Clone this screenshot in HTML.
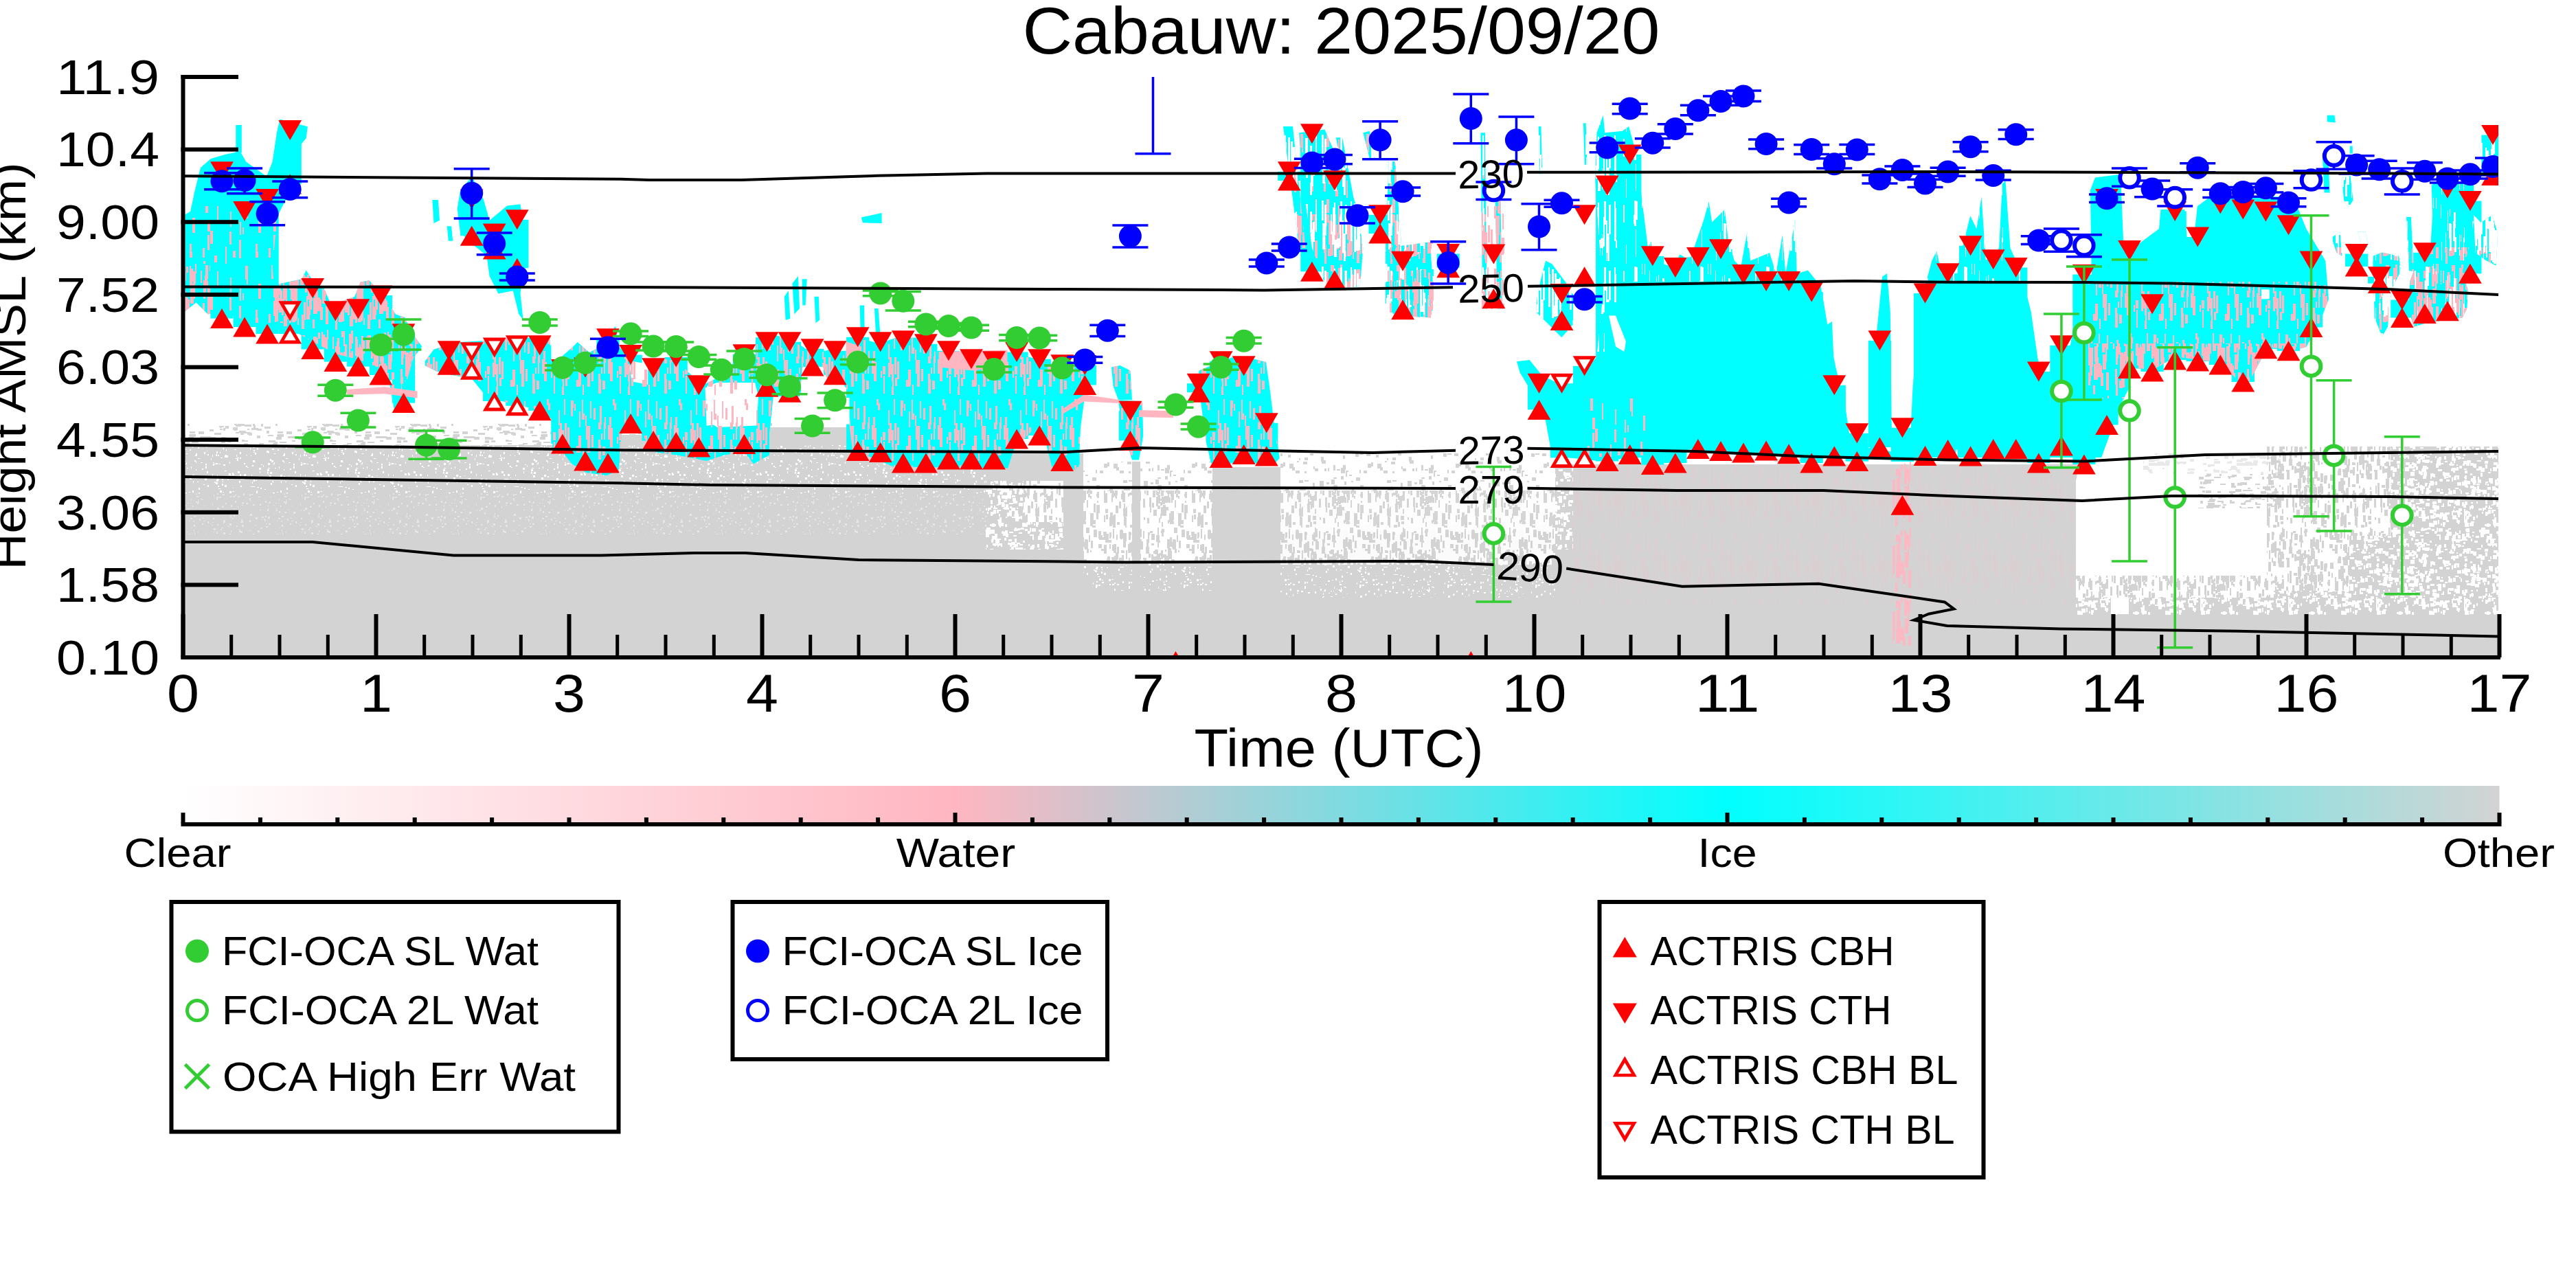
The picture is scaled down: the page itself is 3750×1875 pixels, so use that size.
<!DOCTYPE html>
<html><head><meta charset="utf-8"><title>Cabauw: 2025/09/20</title>
<style>html,body{margin:0;padding:0;background:#fff}svg{display:block}text{font-family:"Liberation Sans",sans-serif;fill:#000}</style>
</head><body>
<svg width="3750" height="1875" viewBox="0 0 3750 1875">
<rect width="3750" height="1875" fill="#fff"/>
<defs>
<clipPath id="ax"><rect x="266.5" y="112.0" width="3370.5" height="845.0"/></clipPath>
<linearGradient id="cb" x1="0" x2="1" y1="0" y2="0">
<stop offset="0" stop-color="#ffffff"/><stop offset="0.3333" stop-color="#ffb6c1"/><stop offset="0.6667" stop-color="#00ffff"/><stop offset="1" stop-color="#d3d3d3"/>
</linearGradient>
<pattern id="nW10" width="128" height="128" patternUnits="userSpaceOnUse"><path d="M21 92h1v1h-1zM78 32h1v3h-1zM77 9h3v1h-3zM20 55h3v3h-3zM102 92h3v2h-3zM69 119h3v2h-3zM34 115h2v3h-2zM93 119h1v1h-1zM54 114h2v2h-2zM71 45h3v1h-3zM6 45h1v1h-1zM17 92h2v1h-2zM71 23h3v3h-3zM94 67h2v2h-2zM45 46h2v3h-2zM122 102h2v1h-2zM59 83h3v3h-3zM62 71h3v1h-3zM65 106h2v3h-2zM113 58h2v3h-2zM72 92h2v2h-2zM58 62h3v3h-3zM120 83h3v1h-3zM112 68h3v1h-3zM38 122h2v2h-2zM71 66h3v3h-3zM78 75h3v3h-3zM93 26h2v2h-2zM46 119h2v3h-2zM112 9h3v3h-3zM1 116h2v3h-2zM27 7h1v3h-1zM6 34h3v3h-3zM87 27h3v1h-3zM109 68h3v1h-3zM15 108h1v1h-1zM7 92h3v1h-3zM31 6h2v1h-2zM17 6h1v1h-1zM5 47h1v3h-1zM104 40h2v1h-2zM66 0h3v1h-3zM5 101h2v3h-2zM9 1h1v1h-1zM80 95h2v3h-2zM36 86h3v1h-3zM39 114h2v1h-2zM94 5h3v3h-3zM110 79h2v2h-2zM60 57h3v1h-3zM80 107h1v3h-1zM114 32h1v1h-1zM99 50h3v3h-3zM41 18h2v3h-2zM33 77h2v2h-2zM2 89h2v3h-2zM85 14h3v1h-3zM16 41h2v1h-2zM116 59h1v1h-1zM119 4h3v3h-3zM113 18h1v1h-1zM75 58h2v1h-2zM90 46h3v3h-3zM54 35h2v3h-2zM19 9h3v1h-3zM20 14h2v2h-2zM11 30h3v3h-3zM5 46h1v1h-1zM55 6h1v1h-1zM59 58h3v3h-3zM82 48h2v3h-2zM53 93h1v3h-1zM65 2h2v2h-2zM6 112h3v3h-3zM74 23h2v3h-2zM122 46h1v3h-1zM30 78h1v3h-1zM88 125h2v2h-2zM2 111h2v2h-2zM12 13h3v2h-3zM107 4h2v1h-2zM52 124h2v1h-2zM113 18h2v1h-2zM6 47h1v2h-1zM9 28h2v3h-2zM14 95h2v1h-2zM59 17h2v3h-2zM113 15h2v2h-2zM15 20h2v1h-2zM82 50h3v2h-3zM26 3h1v3h-1zM60 99h3v3h-3zM127 37h1v3h-1zM18 102h2v2h-2zM61 67h2v2h-2zM122 93h2v3h-2zM107 87h2v2h-2zM29 20h2v2h-2zM33 70h2v3h-2zM86 89h2v3h-2zM24 9h1v3h-1zM69 37h2v1h-2zM102 22h2v1h-2zM4 16h3v3h-3zM29 90h2v2h-2zM42 56h3v3h-3zM73 14h1v3h-1zM108 12h1v3h-1zM31 91h2v3h-2zM21 114h3v2h-3zM60 51h1v2h-1zM93 18h2v3h-2zM92 3h2v2h-2zM112 94h3v2h-3zM13 61h1v2h-1zM32 90h2v2h-2zM90 82h3v2h-3zM123 70h2v2h-2zM95 116h2v3h-2zM97 57h3v1h-3zM24 51h3v3h-3zM125 112h3v2h-3zM40 118h3v1h-3zM116 113h3v3h-3zM22 104h2v3h-2zM103 55h1v1h-1zM77 49h3v3h-3zM99 51h1v1h-1zM117 75h2v3h-2zM62 35h3v1h-3zM111 61h1v3h-1zM72 22h2v3h-2zM26 124h2v3h-2zM0 115h1v2h-1zM107 85h2v3h-2zM96 124h3v1h-3zM58 34h3v2h-3zM3 126h3v2h-3zM88 22h1v3h-1zM86 80h2v2h-2zM6 41h3v1h-3zM59 86h2v2h-2zM1 72h2v1h-2zM123 0h3v2h-3zM68 97h2v1h-2zM26 111h3v2h-3zM63 83h3v2h-3zM77 9h1v2h-1zM38 42h2v2h-2zM83 82h3v2h-3zM107 117h2v3h-2zM53 50h1v3h-1zM108 108h3v3h-3zM22 39h1v3h-1zM117 59h1v1h-1zM7 122h3v2h-3zM97 93h1v1h-1zM91 9h1v2h-1zM46 21h2v2h-2zM111 37h2v2h-2zM117 113h2v1h-2zM118 69h3v1h-3zM12 60h2v1h-2zM96 95h2v1h-2zM35 101h1v2h-1zM68 96h1v1h-1zM43 35h2v3h-2zM64 74h3v3h-3zM121 41h3v3h-3zM96 91h3v2h-3zM96 124h3v3h-3zM68 79h3v2h-3zM9 47h3v3h-3zM61 22h2v2h-2zM56 61h2v2h-2zM80 97h1v1h-1zM26 89h1v1h-1zM19 117h1v2h-1zM55 1h3v3h-3zM30 105h3v2h-3zM69 36h3v2h-3zM115 19h2v3h-2zM25 118h2v2h-2zM124 36h2v1h-2zM64 18h1v2h-1zM32 11h2v2h-2zM31 61h2v1h-2zM5 43h3v3h-3zM98 78h2v3h-2zM45 16h1v1h-1zM99 34h2v2h-2zM29 43h1v2h-1zM78 122h3v3h-3zM6 100h2v1h-2zM79 111h2v2h-2zM107 79h2v3h-2zM75 126h3v1h-3zM58 21h2v3h-2zM67 57h2v2h-2zM115 32h1v1h-1zM44 9h1v3h-1zM58 102h2v2h-2zM32 27h3v1h-3zM28 22h3v2h-3zM109 23h1v1h-1zM59 6h2v3h-2zM8 123h2v1h-2zM7 17h1v3h-1zM69 7h3v3h-3zM1 86h1v1h-1zM112 30h3v3h-3zM125 0h1v2h-1zM29 31h1v3h-1zM54 102h1v2h-1zM55 80h1v3h-1zM79 82h2v2h-2zM67 64h2v3h-2zM65 26h3v1h-3zM53 22h1v3h-1zM38 87h2v1h-2zM54 33h2v1h-2zM102 38h2v2h-2zM25 60h1v3h-1zM67 97h2v2h-2zM29 53h2v2h-2zM89 26h3v1h-3zM51 27h1v3h-1zM10 82h1v2h-1zM6 95h1v3h-1zM92 60h2v3h-2zM94 57h3v1h-3zM80 4h1v3h-1zM13 35h3v1h-3zM69 117h3v3h-3zM118 74h1v1h-1zM83 70h1v1h-1zM8 52h3v3h-3zM92 4h2v3h-2zM84 110h2v2h-2zM69 120h1v3h-1zM107 85h1v1h-1zM93 50h2v3h-2zM95 118h3v3h-3zM32 88h1v2h-1zM116 124h1v2h-1zM60 78h2v2h-2zM24 74h2v3h-2zM24 96h2v2h-2zM43 39h2v3h-2zM94 120h1v1h-1zM32 87h1v3h-1zM68 76h2v1h-2zM7 50h1v1h-1zM40 65h2v1h-2zM43 105h3v3h-3zM53 120h2v1h-2zM36 33h3v1h-3zM41 96h1v1h-1zM81 114h3v1h-3zM10 63h2v3h-2zM19 76h2v1h-2zM85 100h1v1h-1zM30 82h3v2h-3zM15 33h1v3h-1zM17 100h3v1h-3zM124 116h2v1h-2zM60 123h2v2h-2zM27 30h2v2h-2zM23 0h1v1h-1zM110 51h1v2h-1zM69 12h1v3h-1zM46 66h2v3h-2zM8 90h2v3h-2zM89 28h2v3h-2zM3 122h2v1h-2zM36 52h1v1h-1zM68 12h2v1h-2zM82 75h3v1h-3zM22 86h1v3h-1zM55 35h3v1h-3zM68 60h1v2h-1zM90 97h1v3h-1zM118 12h2v3h-2zM13 77h3v2h-3z" fill="#fff"/></pattern>
<pattern id="nW35" width="128" height="128" patternUnits="userSpaceOnUse"><path d="M69 16h3v6h-3zM60 80h4v6h-4zM77 1h6v2h-6zM70 29h5v4h-5zM69 107h3v5h-3zM50 81h6v5h-6zM81 19h3v3h-3zM94 1h6v5h-6zM97 122h2v3h-2zM38 99h6v2h-6zM60 76h2v4h-2zM50 93h5v5h-5zM119 17h6v5h-6zM4 17h4v2h-4zM33 123h5v3h-5zM53 64h5v4h-5zM44 68h5v6h-5zM74 29h6v5h-6zM109 35h4v2h-4zM89 110h6v3h-6zM115 73h4v6h-4zM91 83h6v2h-6zM34 36h3v6h-3zM61 109h2v2h-2zM44 102h5v2h-5zM114 19h2v5h-2zM54 98h2v4h-2zM5 77h5v2h-5zM48 91h6v2h-6zM70 112h6v4h-6zM30 4h4v6h-4zM9 13h4v2h-4zM4 121h6v6h-6zM37 78h3v5h-3zM88 5h4v3h-4zM46 122h4v4h-4zM48 58h3v5h-3zM82 110h6v5h-6zM13 79h6v6h-6zM55 81h6v4h-6zM55 33h3v4h-3zM70 43h6v4h-6zM126 74h2v5h-2zM48 78h4v2h-4zM7 81h6v3h-6zM45 86h4v5h-4zM90 35h4v6h-4zM75 7h5v2h-5zM32 80h2v4h-2zM75 76h5v4h-5zM46 23h4v3h-4zM108 76h4v4h-4zM100 48h4v4h-4zM124 72h2v2h-2zM64 28h3v4h-3zM41 23h4v3h-4zM13 76h5v2h-5zM86 106h4v4h-4zM103 109h3v5h-3zM43 94h3v2h-3zM57 34h3v6h-3zM4 67h3v2h-3zM103 107h3v4h-3zM110 35h6v3h-6zM103 79h4v2h-4zM16 53h4v6h-4zM101 108h4v6h-4zM44 81h4v5h-4zM53 72h5v4h-5zM117 52h5v2h-5zM0 61h3v3h-3zM55 71h6v6h-6zM95 58h3v2h-3zM69 43h6v4h-6zM109 75h3v2h-3zM103 31h4v2h-4zM115 102h2v2h-2zM114 113h6v3h-6zM6 1h5v6h-5zM21 64h5v2h-5zM84 2h4v3h-4zM52 6h6v6h-6zM43 16h6v2h-6zM61 103h4v6h-4zM28 25h2v4h-2zM113 104h2v6h-2zM30 101h2v3h-2zM105 117h4v3h-4zM80 73h2v5h-2zM96 34h5v2h-5zM79 67h3v4h-3zM6 60h6v5h-6zM109 7h4v2h-4zM15 6h3v2h-3zM124 4h2v5h-2zM64 62h2v6h-2zM40 9h4v3h-4zM82 49h4v5h-4zM46 33h6v4h-6zM54 15h3v4h-3zM0 91h3v6h-3zM72 22h5v2h-5zM58 77h2v4h-2zM81 102h6v5h-6zM113 55h2v6h-2zM80 63h2v4h-2zM121 88h4v5h-4zM2 31h5v5h-5zM34 88h3v6h-3zM102 54h6v2h-6zM16 112h3v5h-3zM47 124h2v4h-2zM15 59h6v4h-6zM101 48h2v6h-2zM72 68h2v4h-2zM91 0h2v6h-2zM30 99h5v3h-5zM67 11h5v2h-5zM84 112h6v2h-6zM104 3h5v3h-5zM3 108h4v2h-4zM107 89h2v5h-2zM38 102h4v6h-4zM98 72h2v2h-2zM91 30h6v6h-6zM95 12h2v6h-2zM70 41h6v2h-6zM105 9h6v3h-6zM82 31h3v3h-3zM89 96h5v6h-5zM47 76h5v4h-5zM71 53h5v4h-5zM64 30h2v5h-2zM53 88h5v3h-5zM86 118h6v6h-6zM19 82h6v5h-6zM20 12h5v3h-5zM117 89h5v5h-5zM75 92h6v5h-6zM34 96h3v3h-3zM74 65h3v3h-3zM108 88h4v3h-4zM85 90h6v4h-6zM109 74h5v6h-5zM113 27h6v4h-6zM34 61h4v2h-4zM22 72h5v3h-5zM41 61h4v3h-4zM89 61h3v5h-3zM59 74h6v3h-6zM61 92h6v2h-6zM100 93h2v5h-2zM116 29h2v5h-2zM122 27h3v2h-3zM113 24h4v3h-4zM23 79h4v3h-4zM21 110h2v4h-2zM23 54h2v4h-2zM15 11h2v2h-2zM4 45h4v4h-4zM93 86h5v6h-5zM3 42h4v2h-4zM48 62h4v5h-4zM82 74h2v3h-2zM16 69h5v5h-5zM113 35h4v2h-4zM14 56h2v5h-2zM12 67h6v4h-6zM96 57h4v4h-4zM13 96h4v4h-4zM68 67h4v6h-4zM65 45h2v5h-2zM86 93h2v4h-2zM82 82h6v3h-6zM47 113h3v3h-3zM13 119h5v2h-5zM117 42h6v3h-6zM71 38h6v5h-6zM61 39h3v5h-3zM13 91h3v2h-3zM69 73h3v6h-3zM12 34h5v4h-5zM6 111h4v5h-4zM61 64h3v2h-3zM89 98h4v3h-4zM112 42h6v4h-6zM69 103h5v5h-5zM63 108h2v4h-2zM34 75h2v3h-2zM72 99h2v2h-2zM89 24h2v3h-2zM85 95h6v5h-6zM75 77h5v3h-5zM102 24h3v5h-3zM21 72h6v6h-6zM111 32h3v3h-3zM3 107h4v4h-4zM121 104h5v5h-5zM70 115h5v4h-5zM81 63h6v4h-6zM114 110h6v4h-6zM76 24h5v2h-5zM98 96h2v2h-2zM22 67h3v5h-3zM24 100h5v3h-5zM4 104h6v3h-6zM14 72h6v5h-6zM17 59h4v3h-4zM118 6h2v6h-2zM79 29h2v4h-2zM63 68h6v2h-6zM41 42h2v4h-2zM10 109h4v3h-4zM91 10h6v2h-6zM119 8h4v3h-4zM89 96h3v5h-3zM40 13h3v5h-3zM9 108h2v5h-2zM50 63h3v3h-3zM68 109h5v2h-5zM83 62h5v3h-5zM59 58h4v2h-4zM23 58h5v5h-5zM46 108h2v4h-2zM67 46h4v5h-4zM28 0h6v5h-6zM100 47h3v4h-3zM68 24h3v5h-3zM2 21h3v3h-3zM64 21h6v5h-6zM14 77h2v3h-2zM62 23h3v5h-3zM51 57h2v2h-2zM4 90h4v5h-4zM51 5h2v3h-2zM3 116h5v5h-5zM12 49h3v3h-3zM21 42h5v3h-5zM44 116h6v2h-6zM6 103h2v6h-2zM100 120h4v4h-4zM62 31h5v4h-5zM3 104h6v4h-6zM40 11h4v4h-4zM124 11h2v5h-2zM0 13h6v6h-6zM2 21h2v2h-2zM61 6h6v2h-6zM115 42h3v6h-3zM43 102h3v5h-3zM120 84h5v4h-5zM39 96h2v5h-2zM11 121h6v5h-6zM108 52h4v3h-4zM49 70h2v6h-2zM87 99h4v6h-4zM107 94h5v3h-5zM45 118h5v6h-5zM102 53h3v4h-3zM56 99h5v3h-5zM34 105h5v4h-5zM92 96h3v6h-3zM121 62h6v5h-6zM21 90h2v3h-2zM11 97h2v5h-2zM30 76h2v4h-2zM111 6h2v6h-2zM114 111h5v5h-5zM0 9h4v4h-4zM100 122h3v5h-3zM72 39h2v4h-2zM10 105h2v5h-2zM88 6h3v3h-3zM74 1h3v3h-3zM36 123h2v3h-2zM108 71h3v3h-3zM64 99h6v5h-6zM100 113h6v4h-6zM59 22h6v3h-6zM5 105h6v2h-6zM3 109h2v6h-2zM120 114h2v3h-2zM13 59h4v2h-4zM105 106h5v3h-5zM82 62h6v2h-6zM77 84h4v5h-4zM37 106h5v2h-5zM104 48h6v5h-6zM69 0h3v2h-3zM93 82h5v4h-5zM44 24h2v4h-2zM118 70h5v2h-5zM100 82h4v5h-4zM66 27h2v6h-2zM107 7h3v4h-3zM55 56h4v3h-4zM27 41h2v4h-2zM92 27h3v3h-3zM119 91h6v5h-6zM47 121h6v5h-6zM121 52h3v6h-3zM60 75h5v5h-5zM122 119h2v4h-2zM114 12h2v3h-2zM37 64h2v3h-2zM81 60h6v2h-6zM95 26h2v3h-2zM55 4h4v5h-4zM94 25h4v5h-4zM13 56h4v3h-4zM56 9h4v5h-4zM62 97h3v3h-3zM103 112h4v5h-4zM55 39h4v3h-4zM67 69h5v5h-5zM122 109h3v4h-3zM3 59h4v4h-4zM103 106h4v4h-4zM119 103h4v3h-4zM1 16h6v2h-6zM68 2h6v3h-6zM0 26h3v2h-3zM123 100h5v4h-5zM4 62h4v6h-4zM1 35h3v3h-3zM106 6h5v4h-5zM103 12h6v6h-6zM33 31h5v4h-5zM92 33h5v5h-5zM3 54h4v2h-4zM116 97h2v3h-2zM122 17h6v3h-6zM96 106h5v6h-5zM17 35h4v6h-4zM5 2h2v3h-2zM114 104h5v2h-5zM66 85h5v5h-5zM53 47h6v6h-6zM37 23h6v3h-6zM126 106h2v3h-2zM52 99h6v2h-6zM58 35h4v5h-4zM36 122h4v5h-4zM73 40h6v3h-6zM4 52h3v6h-3zM105 58h5v3h-5zM34 3h6v6h-6zM76 70h4v6h-4zM16 35h2v5h-2zM55 85h4v2h-4zM4 65h2v4h-2zM24 39h5v5h-5zM83 49h4v3h-4zM6 34h5v4h-5zM120 40h3v2h-3zM50 71h4v6h-4zM16 53h4v2h-4zM115 10h4v5h-4zM122 25h5v3h-5zM14 95h2v6h-2zM120 36h2v2h-2zM34 61h2v5h-2zM37 69h5v4h-5zM22 30h6v2h-6zM18 19h5v3h-5zM86 50h3v5h-3zM50 6h2v3h-2zM39 24h3v3h-3zM6 67h3v3h-3zM27 48h3v6h-3zM49 23h2v5h-2zM13 16h2v4h-2zM37 16h2v3h-2zM120 117h5v4h-5zM119 24h6v2h-6zM18 61h2v4h-2zM45 69h3v2h-3zM90 108h5v2h-5zM2 94h4v5h-4zM95 109h4v6h-4zM52 59h5v6h-5zM39 56h6v6h-6zM58 106h3v6h-3zM96 76h5v3h-5zM38 123h4v3h-4zM34 107h3v4h-3zM6 77h3v3h-3zM78 111h2v5h-2zM73 1h3v2h-3zM101 51h3v2h-3zM67 89h6v4h-6zM59 69h4v2h-4zM41 18h6v5h-6zM27 41h6v6h-6zM72 47h5v6h-5zM45 89h4v6h-4zM110 88h6v4h-6zM124 38h4v4h-4zM15 77h4v3h-4zM93 43h6v3h-6zM55 123h3v4h-3zM16 61h4v5h-4zM100 111h4v6h-4zM67 66h3v6h-3zM6 8h5v6h-5zM70 108h5v5h-5zM7 30h6v4h-6zM27 9h5v5h-5zM27 7h4v6h-4zM113 15h6v5h-6zM91 71h5v5h-5zM38 47h4v2h-4zM51 56h6v4h-6zM74 63h4v2h-4zM28 0h3v4h-3zM78 0h4v2h-4zM26 41h3v2h-3zM25 3h5v4h-5zM93 117h2v6h-2zM56 94h4v6h-4zM56 43h4v3h-4zM65 112h6v2h-6zM60 17h5v3h-5zM70 24h4v4h-4zM76 112h2v3h-2zM3 101h2v5h-2zM0 62h4v5h-4zM35 17h3v5h-3zM65 81h5v3h-5zM80 121h5v6h-5zM36 12h4v5h-4zM56 112h2v2h-2zM108 1h4v2h-4zM116 54h4v5h-4zM82 53h2v4h-2zM113 41h6v3h-6zM122 11h3v5h-3zM3 115h2v6h-2zM30 73h6v6h-6zM29 105h2v3h-2zM50 36h5v6h-5zM84 122h4v5h-4zM25 73h6v3h-6zM115 75h4v4h-4zM68 46h3v6h-3zM45 40h6v6h-6z" fill="#fff"/></pattern>
<pattern id="nW55" width="128" height="128" patternUnits="userSpaceOnUse"><rect width="128" height="128" fill="#fff"/><path d="M13 92h3v7h-3zM19 11h5v10h-5zM51 70h2v3h-2zM28 66h4v3h-4zM99 22h4v7h-4zM27 120h2v7h-2zM103 33h2v13h-2zM21 39h4v6h-4zM111 93h4v13h-4zM108 77h4v4h-4zM49 64h4v13h-4zM31 60h3v5h-3zM120 119h4v4h-4zM116 37h4v3h-4zM24 52h4v11h-4zM36 55h5v12h-5zM29 39h5v5h-5zM10 5h4v3h-4zM35 66h5v13h-5zM43 18h5v14h-5zM52 116h3v4h-3zM80 56h3v13h-3zM45 55h4v5h-4zM71 25h4v13h-4zM107 7h4v4h-4zM97 74h3v7h-3zM42 119h3v4h-3zM58 3h3v7h-3zM89 10h2v8h-2zM86 41h4v14h-4zM36 41h2v8h-2zM52 110h3v13h-3zM79 24h2v7h-2zM17 32h5v7h-5zM123 20h5v12h-5zM1 46h4v12h-4zM21 46h2v10h-2zM73 12h4v7h-4zM54 117h5v6h-5zM7 7h3v4h-3zM21 76h2v14h-2zM5 69h3v12h-3zM31 41h5v12h-5zM106 67h2v4h-2zM83 25h4v9h-4zM30 56h5v6h-5zM4 28h5v10h-5zM31 82h5v10h-5zM63 24h5v6h-5zM32 32h2v3h-2zM26 98h3v11h-3zM111 33h3v9h-3zM6 114h3v8h-3zM14 72h4v12h-4zM83 111h5v13h-5zM49 11h2v10h-2zM119 111h5v6h-5zM37 84h3v8h-3zM40 104h5v13h-5zM27 83h5v11h-5zM118 50h4v8h-4zM109 124h5v4h-5zM85 24h4v13h-4zM115 79h2v9h-2zM85 109h3v7h-3zM88 81h2v5h-2zM60 95h5v12h-5zM27 102h5v9h-5zM118 20h2v6h-2zM112 32h2v12h-2zM103 98h2v9h-2zM70 6h5v6h-5zM85 77h3v5h-3zM99 100h4v11h-4zM56 3h5v11h-5zM89 76h2v3h-2zM71 110h2v10h-2zM99 17h4v12h-4zM10 98h2v8h-2zM107 44h2v7h-2zM122 69h2v4h-2zM26 100h5v9h-5zM29 97h4v9h-4zM12 9h5v9h-5zM102 113h2v12h-2zM55 53h4v11h-4zM80 112h5v4h-5zM38 107h3v13h-3zM15 102h5v9h-5zM111 20h3v8h-3zM19 41h3v14h-3zM33 69h5v8h-5zM21 0h2v14h-2zM69 14h4v4h-4zM76 61h5v14h-5zM31 52h2v11h-2zM29 98h4v8h-4zM0 86h3v13h-3zM116 40h2v12h-2zM39 111h5v12h-5zM79 56h5v12h-5zM32 98h5v5h-5zM43 17h4v13h-4zM77 18h5v4h-5zM115 120h3v7h-3zM73 101h4v6h-4zM79 113h4v13h-4zM51 82h2v4h-2zM83 47h3v8h-3zM38 113h4v5h-4zM2 67h2v12h-2zM103 104h2v8h-2zM23 74h2v5h-2zM73 9h5v13h-5zM83 61h2v5h-2zM100 106h3v12h-3zM51 112h4v14h-4zM90 28h3v10h-3zM29 95h4v8h-4zM80 67h4v11h-4zM64 51h5v9h-5zM56 52h4v7h-4zM23 114h2v7h-2zM71 78h5v14h-5zM121 49h4v9h-4zM65 8h2v5h-2zM117 44h5v13h-5zM96 33h4v4h-4zM81 118h5v6h-5zM99 8h5v12h-5zM8 38h3v6h-3zM20 50h3v3h-3zM67 31h4v3h-4zM26 4h3v4h-3zM15 34h4v4h-4zM36 78h2v13h-2zM19 83h3v14h-3zM112 90h5v5h-5zM46 88h2v11h-2zM112 70h2v14h-2zM52 19h3v11h-3zM61 64h3v7h-3zM21 20h2v9h-2zM50 68h4v11h-4zM42 21h4v9h-4zM54 125h5v3h-5zM112 86h2v7h-2zM122 101h2v7h-2zM20 14h3v4h-3zM29 70h2v6h-2zM116 91h2v10h-2zM93 90h3v10h-3zM108 22h5v8h-5zM60 79h3v4h-3zM119 82h4v7h-4zM94 4h5v12h-5zM74 109h3v7h-3zM80 106h4v10h-4zM114 30h4v4h-4zM84 124h4v4h-4zM41 67h2v12h-2zM118 10h5v8h-5zM5 63h3v14h-3zM25 86h3v3h-3zM100 77h2v8h-2zM39 14h3v14h-3zM108 28h2v4h-2zM122 2h4v12h-4zM61 89h2v3h-2zM46 31h3v6h-3zM109 49h4v7h-4zM22 52h5v3h-5zM96 65h5v4h-5zM88 36h4v11h-4zM90 55h3v14h-3zM27 2h4v5h-4zM119 35h5v9h-5zM121 80h4v9h-4zM96 79h5v8h-5zM35 65h3v7h-3zM51 33h2v3h-2zM117 82h4v13h-4zM97 40h3v12h-3zM79 11h2v5h-2zM85 27h3v7h-3zM82 43h5v4h-5zM72 26h2v10h-2zM31 66h3v4h-3zM102 124h2v4h-2zM111 72h4v7h-4zM9 84h3v14h-3zM95 3h3v14h-3zM26 33h3v13h-3zM41 80h2v12h-2zM98 77h4v14h-4zM21 96h4v5h-4zM122 6h3v3h-3zM120 7h3v13h-3zM117 85h4v14h-4zM108 25h5v4h-5zM61 76h3v9h-3zM41 46h5v11h-5zM51 107h5v14h-5zM23 19h2v3h-2zM37 30h4v6h-4zM110 24h4v12h-4zM46 68h4v9h-4zM24 44h2v6h-2zM27 2h3v11h-3zM24 37h2v4h-2zM63 5h4v11h-4zM102 50h4v14h-4zM48 79h3v5h-3zM45 0h5v8h-5zM17 57h5v14h-5zM100 93h2v14h-2zM14 42h5v6h-5zM71 6h4v12h-4zM20 86h2v10h-2zM106 78h2v5h-2zM42 76h3v12h-3zM84 2h2v14h-2zM29 102h5v9h-5zM5 17h3v12h-3zM36 29h3v12h-3zM40 69h5v14h-5zM93 44h4v5h-4zM76 42h4v7h-4zM19 46h2v11h-2zM60 106h3v10h-3zM113 80h2v4h-2zM18 70h3v5h-3zM107 6h3v12h-3zM90 120h4v4h-4zM19 69h2v12h-2zM79 7h3v7h-3zM112 110h4v10h-4zM82 60h4v6h-4zM88 96h4v11h-4zM36 117h2v5h-2zM0 44h5v3h-5zM25 55h4v4h-4zM100 116h2v9h-2zM25 108h2v7h-2zM25 91h3v5h-3zM1 113h2v4h-2zM66 66h2v7h-2zM11 66h5v4h-5zM21 80h4v13h-4zM88 70h3v11h-3zM7 8h2v14h-2zM123 17h3v9h-3zM41 65h2v11h-2zM35 17h4v13h-4zM82 79h2v12h-2zM122 0h2v12h-2zM98 34h3v3h-3zM75 45h5v7h-5zM46 68h3v11h-3zM79 57h5v6h-5zM83 74h3v10h-3zM71 72h2v12h-2zM122 75h3v7h-3zM20 38h5v8h-5zM122 38h3v8h-3zM26 68h4v14h-4zM37 34h5v12h-5zM21 40h4v13h-4zM102 114h2v6h-2zM106 24h4v13h-4zM12 39h3v10h-3zM0 5h2v11h-2zM87 71h2v13h-2zM117 31h3v6h-3zM50 49h4v13h-4zM56 93h3v13h-3zM64 11h5v7h-5zM12 23h4v3h-4z" fill="#d3d3d3"/></pattern>
<pattern id="nW80" width="128" height="128" patternUnits="userSpaceOnUse"><rect width="128" height="128" fill="#fff"/><path d="M94 45h6v4h-6zM107 59h6v2h-6zM6 115h3v7h-3zM47 60h3v2h-3zM69 13h3v5h-3zM1 93h6v3h-6zM35 23h3v5h-3zM97 102h5v3h-5zM79 79h2v3h-2zM16 0h5v3h-5zM99 27h2v3h-2zM21 37h3v8h-3zM69 112h4v3h-4zM120 123h3v3h-3zM38 2h3v5h-3zM21 119h4v5h-4zM8 42h3v4h-3zM77 75h4v8h-4zM86 90h2v6h-2zM39 45h4v2h-4zM89 40h4v5h-4zM60 90h3v5h-3zM32 124h3v2h-3zM45 108h2v7h-2zM70 100h5v2h-5zM48 74h5v4h-5zM5 90h2v5h-2zM122 122h3v6h-3zM96 31h3v2h-3zM65 45h5v4h-5zM99 59h6v4h-6zM95 99h2v6h-2zM37 4h4v8h-4zM26 43h5v2h-5zM46 117h6v6h-6zM35 118h3v4h-3zM39 87h6v2h-6zM22 102h4v4h-4zM19 92h2v7h-2zM20 92h4v5h-4zM126 76h2v2h-2zM4 30h6v5h-6zM105 32h6v4h-6zM53 18h5v7h-5zM4 102h2v7h-2zM107 26h5v4h-5zM72 121h3v7h-3zM114 100h3v7h-3zM21 55h5v2h-5zM7 108h4v3h-4zM18 58h5v4h-5zM21 66h6v8h-6zM88 93h5v5h-5zM35 37h4v5h-4zM115 18h5v5h-5zM105 68h2v5h-2zM119 63h3v7h-3zM11 62h4v3h-4zM100 70h4v6h-4zM8 100h6v4h-6zM75 84h4v7h-4zM39 46h2v8h-2zM85 35h6v7h-6zM98 88h5v4h-5zM83 22h4v4h-4zM1 60h6v8h-6zM32 41h6v8h-6zM36 104h4v5h-4zM86 102h6v7h-6zM35 82h4v4h-4zM120 106h4v7h-4zM118 107h5v4h-5zM110 88h3v8h-3zM122 42h5v4h-5zM67 125h6v3h-6zM107 46h3v3h-3zM88 10h5v4h-5zM78 99h5v3h-5zM85 119h6v6h-6zM79 70h5v4h-5zM3 25h4v7h-4zM56 79h3v6h-3zM97 87h3v3h-3zM91 5h3v7h-3zM21 6h5v3h-5zM40 123h3v2h-3zM24 70h3v5h-3zM59 44h2v5h-2zM78 9h5v7h-5zM30 91h6v3h-6zM44 51h4v2h-4zM52 110h4v8h-4zM106 70h2v7h-2zM70 78h4v2h-4zM37 69h4v2h-4zM121 74h6v4h-6zM104 16h4v4h-4zM104 72h5v5h-5zM59 18h6v4h-6zM48 72h3v6h-3zM123 17h5v3h-5zM44 105h6v2h-6zM13 41h2v5h-2zM69 18h6v6h-6zM112 114h4v7h-4zM54 55h6v5h-6zM37 61h3v5h-3zM123 109h5v5h-5zM76 33h3v6h-3zM32 53h4v5h-4zM120 39h2v4h-2zM18 61h5v4h-5zM84 79h2v2h-2zM37 5h5v3h-5zM50 1h3v8h-3zM71 35h5v6h-5zM100 4h3v5h-3zM34 108h3v5h-3zM36 37h3v7h-3zM60 66h5v6h-5z" fill="#d3d3d3"/></pattern>
<pattern id="nG25" width="128" height="128" patternUnits="userSpaceOnUse"><path d="M97 33h4v3h-4zM18 84h3v2h-3zM47 40h10v4h-10zM62 102h3v3h-3zM111 52h6v4h-6zM72 70h4v2h-4zM102 78h7v4h-7zM42 11h4v3h-4zM103 32h8v3h-8zM12 96h10v4h-10zM81 101h6v4h-6zM121 5h7v2h-7zM116 46h6v4h-6zM65 73h10v2h-10zM46 31h3v4h-3zM45 75h9v3h-9zM64 112h4v2h-4zM77 84h6v2h-6zM92 25h7v3h-7zM28 17h9v3h-9zM66 1h6v4h-6zM2 82h6v2h-6zM115 85h8v4h-8zM48 67h7v3h-7zM16 86h9v3h-9zM23 54h10v2h-10zM56 31h9v2h-9zM85 111h4v4h-4zM100 106h10v3h-10zM66 54h9v2h-9zM90 104h10v3h-10zM24 95h9v2h-9zM62 92h7v3h-7zM2 68h5v2h-5zM75 102h4v3h-4zM32 64h8v2h-8zM118 66h10v3h-10zM118 112h7v3h-7zM62 34h9v4h-9zM61 62h10v4h-10zM48 63h5v4h-5zM103 59h7v4h-7zM84 20h8v3h-8zM77 34h9v4h-9zM50 124h8v4h-8zM101 20h10v4h-10zM0 79h7v4h-7zM23 3h10v2h-10zM91 47h4v4h-4zM109 75h8v3h-8zM19 121h3v2h-3zM1 54h7v4h-7zM60 29h10v2h-10zM46 123h4v3h-4zM80 31h5v4h-5zM4 80h8v2h-8zM13 5h4v4h-4zM92 115h10v3h-10zM3 89h4v4h-4zM106 118h5v4h-5zM79 80h4v2h-4zM57 63h7v4h-7zM17 104h3v4h-3zM61 99h6v3h-6zM71 35h10v3h-10zM74 8h10v4h-10zM36 46h7v3h-7zM64 109h3v2h-3zM35 123h7v3h-7zM56 118h10v3h-10zM91 10h8v2h-8zM81 30h6v4h-6zM22 43h3v4h-3zM6 121h8v2h-8zM55 43h6v4h-6zM93 86h4v2h-4zM70 17h4v3h-4zM63 81h10v4h-10zM9 44h4v2h-4zM67 90h3v2h-3zM36 94h5v2h-5zM72 108h5v4h-5zM28 89h9v2h-9zM88 20h5v3h-5zM71 73h8v2h-8zM49 24h3v4h-3zM67 56h8v3h-8zM108 67h3v3h-3zM29 82h5v4h-5zM85 23h8v3h-8zM88 80h5v2h-5zM9 7h5v3h-5zM60 97h3v2h-3zM83 91h3v2h-3zM47 76h4v4h-4zM69 28h3v2h-3zM97 72h9v2h-9zM60 9h7v2h-7zM114 84h3v2h-3zM14 89h10v2h-10zM87 117h5v2h-5zM93 54h3v4h-3zM56 29h7v3h-7zM99 68h6v4h-6zM75 1h6v3h-6zM101 93h7v4h-7zM11 74h8v4h-8zM46 88h3v3h-3zM121 97h4v2h-4zM117 88h3v3h-3zM87 106h8v3h-8zM17 3h3v3h-3zM8 62h3v3h-3zM106 33h3v3h-3zM75 78h4v4h-4zM16 16h7v2h-7zM23 31h9v4h-9zM54 72h9v4h-9zM32 17h10v3h-10zM24 97h7v2h-7zM103 22h10v2h-10zM65 20h4v2h-4zM75 50h4v2h-4zM110 111h10v3h-10zM107 82h10v2h-10zM98 117h9v2h-9zM43 53h10v2h-10zM17 36h7v3h-7zM109 86h8v4h-8zM0 99h8v2h-8zM10 52h7v2h-7zM11 24h6v4h-6zM16 96h9v3h-9zM118 122h5v4h-5zM67 99h3v4h-3zM113 42h10v3h-10zM83 84h9v3h-9zM16 5h4v3h-4zM77 78h4v4h-4zM64 14h5v4h-5zM106 85h4v2h-4zM44 43h4v2h-4zM104 117h5v4h-5zM23 28h6v2h-6zM94 118h5v3h-5zM14 92h10v4h-10zM102 25h5v3h-5zM18 124h8v4h-8zM33 116h8v4h-8zM96 0h4v3h-4zM3 61h3v4h-3zM7 1h10v3h-10zM12 49h7v4h-7zM94 106h8v2h-8zM106 96h8v2h-8zM85 97h5v3h-5zM51 100h10v4h-10zM113 107h3v4h-3zM57 47h5v2h-5zM86 70h3v2h-3zM9 61h10v3h-10zM90 25h4v3h-4zM42 32h5v3h-5zM69 88h8v3h-8zM71 125h7v3h-7zM95 31h3v4h-3zM112 104h3v4h-3zM68 32h10v4h-10zM41 1h5v2h-5zM38 24h6v4h-6zM7 34h5v3h-5zM112 47h7v4h-7zM93 21h6v4h-6zM104 112h3v2h-3zM23 44h8v4h-8zM118 81h5v3h-5zM49 113h6v3h-6zM83 93h8v2h-8zM6 74h4v3h-4zM56 34h6v4h-6zM7 61h6v4h-6zM34 81h7v4h-7zM100 54h8v3h-8zM97 69h8v2h-8zM20 120h9v4h-9zM83 64h7v2h-7zM64 7h8v4h-8zM14 7h4v4h-4zM68 11h10v3h-10zM33 45h5v4h-5zM34 91h3v2h-3zM49 51h7v3h-7zM14 36h4v4h-4zM93 32h10v3h-10zM98 1h7v2h-7zM69 111h3v4h-3zM28 100h9v2h-9zM83 110h7v4h-7zM33 101h3v2h-3zM15 3h5v4h-5zM62 27h9v3h-9zM35 97h4v4h-4zM19 12h5v2h-5zM76 41h3v2h-3zM60 78h9v4h-9zM41 123h10v3h-10zM102 22h10v2h-10zM85 105h4v2h-4zM28 75h5v3h-5zM72 98h8v3h-8zM107 76h7v4h-7zM116 28h6v4h-6zM31 50h3v3h-3zM4 115h4v4h-4zM102 63h8v3h-8zM48 38h7v3h-7zM91 75h8v4h-8zM115 7h8v4h-8zM75 23h9v4h-9zM75 85h7v3h-7zM13 58h10v2h-10zM73 54h5v3h-5zM9 58h10v3h-10zM1 109h9v3h-9zM8 61h4v4h-4zM7 81h9v4h-9zM124 105h3v4h-3zM20 116h8v3h-8zM68 9h5v3h-5zM76 14h9v4h-9zM104 83h3v3h-3zM94 68h6v4h-6zM66 124h7v4h-7zM46 90h7v3h-7zM44 53h3v4h-3zM63 108h7v2h-7zM2 69h8v2h-8zM99 5h6v2h-6zM82 13h3v3h-3z" fill="#d3d3d3"/></pattern>
<pattern id="nP" width="96" height="96" patternUnits="userSpaceOnUse"><path d="M50 83h3v12h-3zM68 12h2v10h-2zM7 64h3v26h-3zM11 55h2v9h-2zM30 11h3v10h-3zM7 72h4v21h-4zM80 80h2v15h-2zM73 74h4v9h-4zM28 5h3v9h-3zM37 53h4v12h-4zM15 39h2v25h-2zM13 74h4v13h-4zM24 47h4v28h-4zM91 8h2v25h-2zM79 26h4v9h-4zM54 40h3v25h-3zM58 46h3v26h-3zM23 31h3v15h-3zM38 67h2v26h-2zM93 57h3v18h-3zM9 15h3v27h-3zM21 43h4v21h-4zM53 5h2v23h-2zM71 73h4v10h-4zM88 44h3v18h-3zM74 58h4v23h-4zM34 60h2v10h-2zM7 39h4v10h-4zM87 57h4v26h-4zM85 44h3v20h-3zM45 21h2v22h-2zM63 7h4v11h-4zM16 31h2v17h-2zM63 10h3v20h-3zM51 70h2v22h-2zM55 70h3v12h-3zM45 48h3v21h-3zM10 22h2v12h-2zM84 29h2v15h-2zM75 23h2v23h-2zM0 18h3v17h-3zM47 40h3v25h-3zM79 6h2v24h-2zM50 50h3v25h-3z" fill="#ffb6c1"/></pattern>
<pattern id="nPd" width="96" height="96" patternUnits="userSpaceOnUse"><path d="M48 16h3v19h-3zM10 17h3v9h-3zM26 51h3v24h-3zM62 58h2v22h-2zM73 24h5v23h-5zM62 29h5v10h-5zM66 52h2v16h-2zM14 33h5v20h-5zM49 79h2v10h-2zM84 7h5v11h-5zM88 11h4v15h-4zM66 26h5v28h-5zM8 69h3v27h-3zM89 24h2v23h-2zM58 56h3v26h-3zM45 54h4v25h-4zM76 12h3v13h-3zM82 63h4v19h-4zM19 45h3v17h-3zM84 9h4v24h-4zM31 1h3v19h-3zM28 34h4v18h-4zM32 48h2v21h-2zM22 50h4v21h-4zM84 3h2v13h-2zM38 14h3v13h-3zM43 21h2v20h-2zM17 52h5v15h-5zM53 10h5v21h-5zM91 12h2v17h-2zM84 13h2v10h-2zM64 62h4v12h-4zM8 24h3v27h-3zM43 49h2v12h-2zM44 41h2v17h-2zM82 63h4v8h-4zM79 4h3v9h-3zM43 55h3v13h-3zM10 25h5v11h-5zM60 19h3v23h-3zM13 74h5v11h-5zM16 56h5v28h-5zM72 50h2v23h-2zM28 6h4v22h-4zM57 14h3v9h-3zM92 0h2v14h-2zM46 55h2v28h-2zM64 25h2v27h-2zM67 49h3v18h-3zM37 78h3v8h-3zM41 51h4v10h-4zM37 10h3v28h-3zM41 66h5v19h-5zM45 37h4v28h-4zM62 47h2v14h-2zM39 26h5v26h-5zM78 49h4v20h-4zM74 46h4v27h-4zM62 67h5v14h-5zM20 8h2v16h-2zM53 14h5v16h-5zM35 64h4v17h-4zM80 52h4v16h-4zM31 31h3v19h-3zM29 76h5v15h-5zM63 13h3v19h-3zM10 21h2v20h-2zM17 2h5v9h-5zM11 12h3v16h-3zM85 36h5v22h-5zM77 45h2v12h-2zM4 10h2v18h-2zM46 9h3v28h-3zM76 40h3v9h-3zM45 41h3v17h-3zM14 44h2v24h-2zM20 32h5v13h-5zM55 8h5v12h-5zM28 10h2v25h-2zM43 25h4v13h-4zM7 71h2v9h-2zM71 81h3v13h-3zM31 64h4v17h-4zM72 10h5v11h-5zM28 41h3v12h-3zM22 21h3v21h-3zM7 57h3v22h-3zM55 74h4v21h-4zM90 62h4v26h-4zM23 39h4v24h-4zM16 35h4v23h-4z" fill="#ffb6c1"/></pattern>
<pattern id="nWs" width="96" height="96" patternUnits="userSpaceOnUse"><path d="M47 34h2v29h-2zM86 0h1v15h-1zM59 10h2v26h-2zM78 5h2v27h-2zM21 57h3v22h-3zM20 21h3v23h-3zM14 16h1v11h-1zM75 4h3v37h-3zM13 37h3v22h-3zM28 53h1v31h-1zM34 58h1v34h-1zM35 43h1v22h-1zM90 0h1v16h-1zM48 62h2v11h-2zM30 54h1v10h-1zM14 38h3v39h-3zM74 25h1v13h-1zM1 10h1v20h-1zM2 64h1v27h-1zM63 68h1v28h-1zM8 50h1v23h-1zM11 18h1v30h-1zM77 46h1v40h-1zM34 71h1v11h-1zM19 34h3v29h-3z" fill="#fff"/></pattern>
<pattern id="nWs2" width="96" height="96" patternUnits="userSpaceOnUse"><path d="M54 61h4v16h-4zM26 59h4v14h-4zM83 20h3v31h-3zM62 20h2v47h-2zM46 5h2v29h-2zM77 45h3v22h-3zM36 52h3v40h-3zM58 22h4v30h-4zM84 46h4v33h-4zM30 28h2v43h-2zM5 37h4v38h-4zM17 24h2v29h-2zM46 15h3v48h-3zM57 27h3v49h-3zM83 74h3v18h-3zM20 14h3v46h-3zM4 4h3v29h-3zM77 9h3v33h-3zM19 49h4v19h-4zM76 9h4v37h-4zM56 21h2v20h-2zM55 26h2v36h-2zM87 35h3v29h-3zM22 7h2v47h-2zM38 10h3v43h-3zM22 61h4v25h-4zM55 14h3v34h-3zM91 2h2v48h-2zM31 5h3v34h-3zM51 37h3v42h-3zM63 43h2v38h-2zM34 33h2v47h-2zM8 10h3v45h-3zM51 8h3v43h-3z" fill="#fff"/></pattern>
<pattern id="nPl" width="96" height="96" patternUnits="userSpaceOnUse"><path d="M84 67h3v16h-3zM18 48h4v19h-4zM61 35h2v19h-2zM88 29h4v22h-4zM84 79h4v8h-4zM47 20h2v22h-2zM7 73h3v14h-3zM65 43h2v10h-2zM11 2h4v20h-4zM28 11h2v24h-2zM14 54h3v22h-3zM40 71h2v25h-2zM71 21h2v9h-2zM51 77h4v10h-4zM60 61h3v27h-3zM69 3h4v20h-4zM24 84h4v10h-4zM46 49h3v19h-3zM14 32h4v17h-4z" fill="#ffb6c1"/></pattern>
<pattern id="nWs3" width="96" height="96" patternUnits="userSpaceOnUse"><path d="M87 23h4v32h-4zM28 23h3v23h-3zM68 27h3v18h-3zM55 16h4v15h-4zM18 10h2v31h-2zM55 8h4v42h-4zM29 31h4v36h-4zM55 40h5v37h-5zM44 33h4v21h-4zM78 47h5v49h-5zM86 46h3v42h-3zM22 18h5v48h-5zM66 45h3v25h-3zM58 16h4v37h-4zM16 36h4v39h-4zM30 36h5v49h-5zM89 46h3v26h-3zM55 59h3v18h-3zM54 5h5v14h-5zM63 56h3v23h-3zM52 32h4v24h-4zM90 47h4v26h-4zM92 63h3v29h-3zM74 75h3v16h-3zM74 46h2v36h-2zM37 24h4v25h-4zM14 14h3v49h-3zM54 76h3v18h-3zM43 41h2v42h-2zM0 8h2v47h-2zM52 38h4v21h-4zM76 44h4v50h-4zM66 23h2v44h-2zM40 42h2v14h-2zM71 34h3v45h-3zM85 26h5v28h-5zM48 64h4v16h-4zM33 54h3v23h-3zM54 30h3v30h-3zM75 36h4v29h-4zM82 44h5v27h-5zM40 50h5v16h-5zM8 5h5v19h-5zM24 57h2v33h-2zM49 21h5v49h-5zM67 55h2v32h-2zM6 14h3v23h-3zM27 39h4v24h-4zM37 2h4v38h-4zM12 46h4v22h-4zM74 37h5v42h-5z" fill="#fff"/></pattern>
<pattern id="nCs" width="96" height="96" patternUnits="userSpaceOnUse"><path d="M59 57h3v27h-3zM24 23h4v28h-4zM80 23h4v25h-4zM38 18h2v24h-2zM88 5h2v27h-2zM57 20h4v22h-4zM67 8h4v10h-4zM24 30h2v11h-2zM59 41h4v10h-4zM25 66h3v28h-3zM37 63h2v30h-2zM10 58h2v31h-2zM52 70h4v18h-4zM32 40h2v32h-2zM36 3h2v26h-2zM13 51h2v28h-2zM49 8h2v19h-2zM0 27h2v31h-2zM60 48h2v11h-2zM53 9h4v22h-4zM25 34h4v30h-4zM39 42h3v12h-3zM15 17h2v23h-2zM12 1h2v32h-2zM62 22h2v24h-2zM24 57h4v27h-4zM16 53h4v16h-4zM14 50h4v22h-4zM0 34h3v16h-3zM2 26h4v19h-4zM77 73h2v22h-2zM18 27h2v11h-2zM1 78h3v18h-3zM37 24h3v36h-3zM11 26h2v12h-2zM31 1h4v30h-4zM47 58h4v21h-4zM61 17h2v28h-2zM80 19h3v15h-3zM78 31h3v17h-3zM20 80h4v16h-4zM87 49h4v16h-4z" fill="#00ffff"/></pattern>
</defs>
<g clip-path="url(#ax)">
<polygon points="266.5,648.0 880.0,648.0 904.0,633.0 1100.0,632.0 1120.0,622.0 1240.0,622.0 1250.0,660.0 1577.0,660.0 1577.0,672.0 1660.0,672.0 1660.0,680.0 1864.0,680.0 1864.0,660.0 2262.0,660.0 2262.0,676.0 3028.0,676.0 3028.0,672.0 3300.0,672.0 3300.0,650.0 3637.0,650.0 3637.0,957.0 266.5,957.0" fill="#d3d3d3"/>
<rect x="266.5" y="617" width="640" height="31" fill="url(#nG25)"/>
<rect x="904" y="612" width="220" height="21" fill="url(#nG25)"/>
<rect x="2540" y="652" width="100" height="20" fill="url(#nG25)"/>
<rect x="266.5" y="648" width="1170" height="70" fill="url(#nW10)"/>
<rect x="266.5" y="718" width="1170" height="60" fill="url(#nW10)" opacity="0.4"/>
<rect x="1435" y="700" width="113" height="100" fill="url(#nW35)" opacity="1"/>
<rect x="1490" y="700" width="58" height="60" fill="url(#nW55)" opacity="1"/>
<rect x="1577" y="672" width="71" height="42" fill="url(#nW80)" opacity="1"/>
<rect x="1577" y="714" width="71" height="106" fill="url(#nW55)" opacity="1"/>
<rect x="1577" y="820" width="71" height="40" fill="url(#nW10)" opacity="1"/>
<rect x="1660" y="672" width="105" height="42" fill="url(#nW80)" opacity="1"/>
<rect x="1660" y="714" width="105" height="106" fill="url(#nW55)" opacity="1"/>
<rect x="1660" y="820" width="105" height="40" fill="url(#nW10)" opacity="1"/>
<rect x="1864" y="660" width="400" height="54" fill="url(#nW80)" opacity="1"/>
<rect x="1864" y="714" width="400" height="61" fill="url(#nW80)" opacity="0.55"/>
<rect x="1864" y="714" width="400" height="108" fill="url(#nW55)" opacity="0.9"/>
<rect x="1864" y="822" width="400" height="48" fill="url(#nW10)" opacity="1"/>
<rect x="2264" y="680" width="26" height="120" fill="url(#nW35)" opacity="1"/>
<polygon points="3028.0,670.0 3300.0,670.0 3300.0,700.0 3320.0,760.0 3300.0,850.0 3022.0,850.0 3022.0,700.0" fill="#fff"/>
<rect x="3073" y="840" width="26" height="54" fill="#fff"/>
<rect x="3022" y="850" width="288" height="45" fill="url(#nW35)" opacity="1"/>
<rect x="3022" y="838" width="288" height="32" fill="url(#nW55)" opacity="1"/>
<rect x="3300" y="650" width="337" height="245" fill="url(#nW35)" opacity="1"/>
<rect x="3300" y="650" width="180" height="130" fill="url(#nW55)" opacity="1"/>
<rect x="3300" y="690" width="120" height="170" fill="url(#nW55)" opacity="1"/>
<rect x="3200" y="690" width="120" height="50" fill="url(#nG25)"/>
<rect x="3120" y="660" width="200" height="30" fill="url(#nG25)" opacity="0.5"/>
<rect x="2755" y="640" width="28" height="300" fill="url(#nPd)" opacity="0.9"/>
<rect x="2287" y="680" width="735" height="200" fill="url(#nP)" opacity="0.18"/>
<rect x="306.4" y="249.8" width="33.2" height="213.8" fill="#00ffff"/>
<rect x="339.5" y="307.5" width="33.2" height="168.5" fill="#00ffff"/>
<rect x="372.5" y="289.5" width="33.2" height="196.5" fill="#00ffff"/>
<rect x="405.6" y="189.5" width="33.2" height="78.5" fill="#00ffff"/>
<rect x="405.6" y="452.8" width="33.2" height="33.2" fill="#00ffff"/>
<rect x="438.6" y="419.5" width="33.2" height="89.0" fill="#00ffff"/>
<rect x="471.7" y="452.8" width="33.2" height="73.8" fill="#00ffff"/>
<rect x="504.8" y="449.8" width="33.2" height="83.8" fill="#00ffff"/>
<rect x="537.8" y="430.0" width="33.2" height="116.0" fill="#00ffff"/>
<rect x="570.9" y="485.8" width="33.2" height="100.8" fill="#00ffff"/>
<rect x="637.0" y="510.8" width="33.2" height="20.5" fill="#00ffff"/>
<rect x="670.1" y="290.0" width="33.2" height="53.2" fill="#00ffff"/>
<rect x="670.1" y="512.8" width="33.2" height="25.5" fill="#00ffff"/>
<rect x="703.1" y="340.0" width="33.2" height="23.0" fill="#00ffff"/>
<rect x="703.1" y="506.0" width="33.2" height="78.0" fill="#00ffff"/>
<rect x="736.2" y="319.8" width="33.2" height="70.5" fill="#00ffff"/>
<rect x="736.2" y="502.8" width="33.2" height="88.0" fill="#00ffff"/>
<rect x="769.2" y="502.8" width="33.2" height="95.0" fill="#00ffff"/>
<rect x="802.3" y="537.5" width="33.2" height="108.5" fill="#00ffff"/>
<rect x="835.4" y="535.0" width="33.2" height="136.0" fill="#00ffff"/>
<rect x="868.4" y="492.8" width="33.2" height="181.2" fill="#00ffff"/>
<rect x="901.5" y="516.5" width="33.2" height="100.0" fill="#00ffff"/>
<rect x="934.5" y="535.8" width="33.2" height="105.8" fill="#00ffff"/>
<rect x="967.6" y="520.0" width="33.2" height="123.5" fill="#00ffff"/>
<rect x="1000.7" y="560.8" width="33.2" height="90.2" fill="#00ffff"/>
<rect x="1066.8" y="515.8" width="33.2" height="130.8" fill="#00ffff"/>
<rect x="1099.8" y="497.8" width="33.2" height="65.5" fill="#00ffff"/>
<rect x="1132.9" y="497.8" width="33.2" height="73.5" fill="#00ffff"/>
<rect x="1166.0" y="507.8" width="33.2" height="25.2" fill="#00ffff"/>
<rect x="1199.0" y="510.8" width="33.2" height="35.0" fill="#00ffff"/>
<rect x="1232.1" y="490.8" width="33.2" height="165.8" fill="#00ffff"/>
<rect x="1265.1" y="497.8" width="33.2" height="160.8" fill="#00ffff"/>
<rect x="1298.2" y="495.8" width="33.2" height="178.2" fill="#00ffff"/>
<rect x="1331.3" y="500.8" width="33.2" height="173.2" fill="#00ffff"/>
<rect x="1364.3" y="510.8" width="33.2" height="158.2" fill="#00ffff"/>
<rect x="1397.4" y="522.8" width="33.2" height="146.2" fill="#00ffff"/>
<rect x="1430.4" y="525.8" width="33.2" height="143.2" fill="#00ffff"/>
<rect x="1463.5" y="512.5" width="33.2" height="126.5" fill="#00ffff"/>
<rect x="1496.6" y="522.8" width="33.2" height="111.2" fill="#00ffff"/>
<rect x="1529.6" y="530.8" width="33.2" height="140.8" fill="#00ffff"/>
<rect x="1562.7" y="531.5" width="33.2" height="29.0" fill="#00ffff"/>
<rect x="1628.8" y="598.2" width="33.2" height="43.2" fill="#00ffff"/>
<rect x="1728.0" y="558.2" width="33.2" height="13.0" fill="#00ffff"/>
<rect x="1761.0" y="525.8" width="33.2" height="140.8" fill="#00ffff"/>
<rect x="1794.1" y="532.8" width="33.2" height="128.8" fill="#00ffff"/>
<rect x="1827.2" y="615.8" width="33.2" height="48.2" fill="#00ffff"/>
<rect x="1860.2" y="249.8" width="33.2" height="13.2" fill="#00ffff"/>
<rect x="1893.3" y="194.8" width="33.2" height="200.5" fill="#00ffff"/>
<rect x="1926.3" y="262.8" width="33.2" height="145.0" fill="#00ffff"/>
<rect x="1992.5" y="312.8" width="33.2" height="27.2" fill="#00ffff"/>
<rect x="2091.6" y="369.5" width="33.2" height="20.2" fill="#00ffff"/>
<rect x="2223.9" y="558.2" width="33.2" height="38.2" fill="#00ffff"/>
<rect x="2256.9" y="427.5" width="33.2" height="39.0" fill="#00ffff"/>
<rect x="2256.9" y="558.2" width="33.2" height="108.2" fill="#00ffff"/>
<rect x="2290.0" y="532.8" width="33.2" height="133.8" fill="#00ffff"/>
<rect x="2323.1" y="270.0" width="33.2" height="401.5" fill="#00ffff"/>
<rect x="2356.1" y="225.0" width="33.2" height="436.5" fill="#00ffff"/>
<rect x="2389.2" y="372.8" width="33.2" height="303.8" fill="#00ffff"/>
<rect x="2422.2" y="389.5" width="33.2" height="284.5" fill="#00ffff"/>
<rect x="2455.3" y="374.5" width="33.2" height="279.0" fill="#00ffff"/>
<rect x="2488.4" y="362.8" width="33.2" height="293.8" fill="#00ffff"/>
<rect x="2521.4" y="399.5" width="33.2" height="259.5" fill="#00ffff"/>
<rect x="2554.5" y="409.5" width="33.2" height="246.5" fill="#00ffff"/>
<rect x="2587.5" y="409.5" width="33.2" height="251.2" fill="#00ffff"/>
<rect x="2620.6" y="425.0" width="33.2" height="249.0" fill="#00ffff"/>
<rect x="2653.7" y="560.8" width="33.2" height="103.2" fill="#00ffff"/>
<rect x="2686.7" y="630.8" width="33.2" height="40.8" fill="#00ffff"/>
<rect x="2719.8" y="495.8" width="33.2" height="155.2" fill="#00ffff"/>
<rect x="2752.8" y="622.8" width="33.2" height="49.2" fill="#00ffff"/>
<rect x="2785.9" y="427.0" width="33.2" height="236.5" fill="#00ffff"/>
<rect x="2819.0" y="397.8" width="33.2" height="256.8" fill="#00ffff"/>
<rect x="2852.0" y="357.8" width="33.2" height="306.2" fill="#00ffff"/>
<rect x="2885.1" y="377.8" width="33.2" height="275.8" fill="#00ffff"/>
<rect x="2918.1" y="389.5" width="33.2" height="264.0" fill="#00ffff"/>
<rect x="2951.2" y="541.0" width="33.2" height="133.0" fill="#00ffff"/>
<rect x="2984.3" y="502.8" width="33.2" height="146.2" fill="#00ffff"/>
<rect x="3017.3" y="399.5" width="33.2" height="276.5" fill="#00ffff"/>
<rect x="3050.4" y="289.5" width="33.2" height="329.0" fill="#00ffff"/>
<rect x="3083.4" y="364.5" width="33.2" height="172.0" fill="#00ffff"/>
<rect x="3116.5" y="442.8" width="33.2" height="98.2" fill="#00ffff"/>
<rect x="3149.6" y="307.5" width="33.2" height="216.5" fill="#00ffff"/>
<rect x="3182.6" y="345.0" width="33.2" height="181.0" fill="#00ffff"/>
<rect x="3215.7" y="296.8" width="33.2" height="234.2" fill="#00ffff"/>
<rect x="3248.7" y="305.0" width="33.2" height="251.0" fill="#00ffff"/>
<rect x="3281.8" y="308.0" width="33.2" height="199.8" fill="#00ffff"/>
<rect x="3314.9" y="327.8" width="33.2" height="183.0" fill="#00ffff"/>
<rect x="3347.9" y="380.0" width="33.2" height="96.5" fill="#00ffff"/>
<rect x="3414.0" y="369.5" width="33.2" height="18.5" fill="#00ffff"/>
<rect x="3447.1" y="402.8" width="33.2" height="9.8" fill="#00ffff"/>
<rect x="3480.2" y="436.5" width="33.2" height="26.0" fill="#00ffff"/>
<rect x="3513.2" y="367.8" width="33.2" height="88.8" fill="#00ffff"/>
<rect x="3546.3" y="274.2" width="33.2" height="178.5" fill="#00ffff"/>
<rect x="3579.3" y="292.5" width="33.2" height="105.8" fill="#00ffff"/>
<rect x="3612.4" y="196.5" width="33.2" height="59.0" fill="#00ffff"/>
<polygon points="269.4,312.3 277.1,308.0 283.5,278.1 292.0,243.9 307.0,231.1 328.3,224.7 349.7,220.5 358.2,235.4 388.1,256.8 396.6,235.4 403.0,192.7 407.3,173.5 447.9,184.2 445.7,201.2 435.1,214.1 430.8,243.9 422.3,278.1 405.2,312.3 400.9,342.2 396.6,389.1 398.8,414.7 439.3,406.2 445.7,393.4 456.4,410.5 473.5,423.3 482.0,444.6 516.2,431.8 524.7,410.5 537.6,408.3 558.9,431.8 576.0,457.4 588.8,461.7 601.6,487.3 614.4,504.4 601.6,521.5 593.1,551.4 584.5,559.9 576.0,551.4 558.9,555.7 554.6,536.4 522.6,523.6 488.4,515.1 456.4,498.0 422.3,478.8 388.1,478.8 356.1,466.0 324.1,453.2 302.7,457.4 285.6,440.4 269.4,453.2" fill="#00ffff"/>
<polygon points="343.3,182.0 351.8,182.0 351.8,222.6 343.3,222.6" fill="#00ffff"/>
<polygon points="629.4,290.9 637.9,290.9 640.0,320.8 631.5,325.1" fill="#00ffff"/>
<polygon points="650.7,329.3 657.1,329.3 659.2,350.7 652.8,350.7" fill="#00ffff"/>
<polygon points="567.4,559.9 584.5,559.9 588.8,598.4 573.8,596.2" fill="#00ffff"/>
<polygon points="669.9,278.1 687.0,256.8 704.1,290.9 712.6,320.8 738.2,299.5 757.5,297.3 763.9,342.2 761.7,389.1 757.5,427.6 761.7,466.0 755.3,457.4 746.8,423.3 725.4,427.6 712.6,401.9 708.4,372.0 687.0,355.0 669.9,337.9 665.7,303.7" fill="#00ffff"/>
<polygon points="618.7,525.8 631.5,508.7 644.3,504.4 669.9,498.0 704.1,495.9 738.2,491.6 772.4,491.6 800.2,491.6 802.3,525.8 815.1,521.5 834.3,504.4 840.7,498.0 857.8,513.0 874.9,504.4 896.2,474.5 900.5,504.4 917.6,521.5 926.1,525.8 943.2,534.3 960.3,521.5 985.9,525.8 1003.0,542.8 1024.3,559.9 1041.4,551.4 1058.5,534.3 1084.1,525.8 1109.7,517.2 1120.0,491.6 1120.0,662.4 1096.9,675.2 1084.1,658.1 1054.2,662.4 1028.6,670.9 985.9,662.4 951.7,658.1 934.7,632.5 919.7,615.4 904.8,632.5 900.5,683.8 883.4,692.3 853.5,688.0 832.2,675.2 819.4,658.1 804.4,653.9 804.4,611.2 785.2,596.2 751.1,589.8 721.2,581.3 704.1,572.7 687.0,551.4 652.8,545.0 635.8,540.7 618.7,532.2" fill="#00ffff"/>
<polygon points="1100.0,491.6 1125.6,487.3 1142.7,491.6 1168.3,504.4 1185.4,517.2 1206.8,508.7 1228.1,517.2 1240.9,521.5 1249.5,491.6 1279.3,500.1 1305.0,491.6 1339.1,491.6 1356.2,504.4 1373.3,530.0 1398.9,536.4 1433.1,525.8 1467.2,513.0 1505.7,521.5 1531.3,532.2 1548.4,536.4 1569.7,542.8 1574.0,577.0 1569.7,619.7 1571.8,675.2 1565.4,683.8 1531.3,679.5 1522.7,645.3 1501.4,628.2 1475.8,653.9 1467.2,681.6 1300.7,679.5 1240.9,653.9 1236.6,619.7 1240.9,577.0 1228.1,559.9 1206.8,559.9 1198.2,534.3 1168.3,534.3 1164.1,577.0 1125.6,577.0 1121.4,619.7 1117.1,653.9 1100.0,658.1" fill="#00ffff"/>
<polygon points="1141.8,431.8 1147.8,423.3 1150.4,463.8 1143.6,466.0" fill="#00ffff"/>
<polygon points="1153.4,412.6 1161.9,401.9 1164.1,448.9 1156.4,457.4" fill="#00ffff"/>
<polygon points="1167.5,406.2 1174.7,406.2 1172.6,444.6 1168.3,444.6" fill="#00ffff"/>
<polygon points="1185.4,431.8 1191.8,431.8 1193.1,466.0 1187.5,470.3" fill="#00ffff"/>
<polygon points="1251.6,444.6 1258.0,444.6 1258.8,487.3 1252.9,487.3" fill="#00ffff"/>
<polygon points="1272.9,448.9 1278.5,448.9 1281.5,487.3 1275.1,487.3" fill="#00ffff"/>
<polygon points="1253.7,316.5 1283.6,310.1 1283.6,325.1 1255.9,324.2" fill="#00ffff"/>
<polygon points="1548.0,532.0 1578.0,532.0 1579.2,577.0 1573.0,622.0 1570.5,679.5 1548.0,682.0" fill="#00ffff"/>
<polygon points="1628.0,582.0 1663.0,584.5 1664.2,634.5 1658.0,669.5 1648.0,669.5 1633.0,622.0" fill="#00ffff"/>
<polygon points="1618.0,534.5 1630.5,532.0 1645.5,539.5 1648.0,582.0 1628.0,582.0 1620.5,562.0" fill="#00ffff"/>
<polygon points="1745.5,539.5 1763.0,532.0 1795.5,519.5 1823.0,522.0 1843.0,527.0 1848.0,562.0 1855.5,622.0 1863.0,667.0 1855.5,674.5 1763.0,674.5 1755.5,642.0 1748.0,584.5 1743.0,582.0" fill="#00ffff"/>
<polygon points="2019.2,422.0 2085.5,422.0 2085.5,452.0 2073.0,457.0 2068.0,462.0 2028.0,457.0" fill="#00ffff"/>
<polygon points="1868.0,183.9 1881.9,183.9 1900.6,360.9 1891.2,360.9" fill="#00ffff"/>
<polygon points="1891.2,193.2 1928.5,188.5 1956.5,253.7 1975.1,300.3 1984.4,360.9 1979.8,416.8 1933.2,421.5 1909.9,360.9 1895.9,263.1" fill="#00ffff"/>
<polygon points="1944.8,200.2 1954.1,200.2 1972.8,300.3 1965.8,300.3" fill="#00ffff"/>
<polygon points="1984.4,193.2 1993.7,190.8 2000.7,230.4 1993.7,230.4" fill="#00ffff"/>
<polygon points="2021.7,235.1 2031.0,235.1 2040.3,360.9 2035.7,426.1 2026.3,454.1 2017.0,360.9" fill="#00ffff"/>
<polygon points="2045.0,379.5 2082.3,360.9 2086.9,426.1 2072.9,458.7 2045.0,454.1" fill="#00ffff"/>
<polygon points="2155.4,193.2 2161.9,193.2 2164.7,449.4 2158.2,449.4" fill="#00ffff"/>
<polygon points="2176.8,286.3 2184.3,286.3 2187.1,449.4 2179.6,449.4" fill="#00ffff"/>
<polygon points="2239.7,183.9 2243.4,183.9 2245.3,253.7 2241.6,253.7" fill="#00ffff"/>
<polygon points="2250.0,379.5 2259.3,384.2 2287.2,421.5 2289.6,472.7 2273.3,491.3 2250.0,468.0 2236.0,454.1 2238.3,426.1" fill="#00ffff"/>
<polygon points="2324.5,193.2 2333.8,167.6 2336.2,193.2 2361.8,190.8 2371.1,183.9 2385.1,235.1 2389.7,286.3 2394.4,323.6 2399.0,360.9 2403.7,351.6 2406.0,379.5 2436.3,388.8 2445.6,370.2 2459.6,379.5 2480.6,319.0 2487.6,293.3 2492.2,323.6 2510.9,305.0 2515.5,346.9 2524.8,379.5 2534.2,388.8 2543.5,337.6 2548.1,379.5 2576.1,367.9 2585.4,398.2 2594.7,342.3 2599.4,398.2 2613.4,319.0 2615.7,398.2 2632.0,393.5 2650.6,416.8 2659.9,472.7 2666.9,468.0 2669.3,519.3 2678.6,565.9 2687.9,603.1 2694.9,649.7 2632.0,666.0 2459.6,654.4 2389.7,666.0 2324.5,670.7 2259.3,663.7 2250.0,612.5 2240.7,584.5 2226.7,565.9 2212.7,542.6 2208.0,526.3 2226.7,523.9 2245.3,547.2 2287.2,565.9 2324.5,519.3 2329.2,472.7 2333.8,426.1 2326.8,332.9 2322.2,263.1" fill="#00ffff"/>
<polygon points="2304.9,179.2 2308.7,179.2 2310.5,239.8 2306.8,239.8" fill="#00ffff"/>
<polygon points="2640.0,421.4 2654.0,435.4 2667.9,519.2 2686.6,589.1 2691.2,665.9 2640.0,665.9" fill="#00ffff"/>
<polygon points="2726.2,649.6 2728.5,519.2 2740.1,402.7 2747.1,398.1 2751.8,454.0 2754.1,649.6" fill="#00ffff"/>
<polygon points="2779.7,665.9 2784.4,565.8 2793.7,449.3 2812.3,379.5 2819.3,365.5 2826.3,398.1 2844.9,388.8 2847.3,665.9" fill="#00ffff"/>
<polygon points="2849.6,388.8 2854.3,370.1 2868.2,314.3 2877.5,332.9 2884.5,286.3 2891.5,388.8 2910.1,360.8 2914.8,267.7 2919.5,263.0 2926.4,360.8 2942.7,398.1 2956.7,454.0 2966.0,519.2 2975.4,565.8 2994.0,612.3 3003.3,665.9 2849.6,665.9" fill="#00ffff"/>
<polygon points="2691.2,665.9 2726.2,649.6 2779.7,665.9" fill="#00ffff"/>
<polygon points="3003.3,665.9 2998.6,565.8 3012.6,509.9 3026.6,426.0 3031.2,398.1 3096.5,416.7 3098.8,565.8 3087.1,589.1 3059.2,665.9" fill="#00ffff"/>
<polygon points="3042.9,277.0 3049.9,258.4 3087.1,253.7 3094.1,426.0 3045.2,426.0" fill="#00ffff"/>
<polygon points="3087.1,426.0 3105.8,360.8 3143.0,332.9 3145.4,304.9 3180.3,304.9 3184.9,360.8 3194.3,342.2 3198.9,300.3 3217.6,286.3 3338.6,286.3 3357.3,332.9 3385.2,379.5 3389.9,435.4 3375.9,472.6 3357.3,505.2 3338.6,509.9 3301.4,505.2 3268.8,565.8 3233.9,528.5 3201.2,523.8 3167.7,519.2 3135.1,537.8 3101.1,535.5 3087.1,565.8" fill="#00ffff"/>
<polygon points="3539.7,269.6 3546.5,264.1 3557.4,266.8 3600.9,266.8 3602.2,313.0 3595.4,356.5 3584.6,394.6 3592.7,421.7 3591.4,448.9 3584.6,462.5 3565.5,465.2 3530.2,470.7 3513.9,476.1 3505.8,448.9 3508.5,408.2 3513.9,394.6 3530.2,389.1 3538.4,356.5 3541.1,313.0" fill="#00ffff"/>
<polygon points="3503.0,315.8 3509.8,315.8 3513.9,394.6 3507.1,394.6" fill="#00ffff"/>
<polygon points="3454.1,372.8 3467.7,367.4 3492.2,372.8 3494.9,394.6 3481.3,421.7 3475.9,476.1 3467.7,489.7 3456.8,462.5" fill="#00ffff"/>
<polygon points="3600.9,313.0 3611.7,323.9 3628.0,313.0 3636.2,340.2 3633.5,386.4 3617.2,378.3 3603.6,367.4" fill="#00ffff"/>
<polygon points="3609.0,209.8 3622.6,198.9 3636.2,204.3 3636.2,239.7 3622.6,231.5 3611.7,228.8" fill="#00ffff"/>
<polygon points="3409.3,258.7 3421.5,256.0 3425.6,291.3 3418.8,302.2 3412.0,291.3" fill="#00ffff"/>
<polygon points="3394.3,345.7 3406.6,337.5 3409.3,372.8 3401.1,367.4" fill="#00ffff"/>
<polygon points="3380.8,226.1 3388.9,223.4 3391.6,280.4 3383.5,280.4" fill="#00ffff"/>
<polygon points="3420.2,212.5 3424.8,212.5 3424.8,223.4 3420.2,223.4" fill="#00ffff"/>
<polygon points="3387.6,167.7 3398.4,167.7 3399.8,178.5 3387.6,177.2" fill="#00ffff"/>
<polygon points="3432.4,337.5 3443.3,337.5 3448.7,362.0 3437.8,356.5" fill="#00ffff"/>
<polygon points="916.5,532.0 936.5,532.0 937.8,552.0 919.0,552.0" fill="#fff"/>
<polygon points="1029.0,562.0 1044.0,557.0 1099.0,557.0 1104.0,577.0 1101.5,619.5 1044.0,622.0 1029.0,612.0" fill="#fff"/>
<polygon points="1155.5,579.1 1236.6,579.1 1236.6,617.6 1157.6,617.6" fill="#fff"/>
<polygon points="919.7,525.8 943.2,530.0 943.2,559.9 921.9,555.7" fill="#fff"/>
<polygon points="1026.5,564.2 1054.2,559.9 1058.5,615.4 1028.6,619.7" fill="#fff"/>
<polygon points="2342.0,459.5 2352.0,459.5 2367.0,497.0 2364.5,512.0 2352.0,504.5" fill="#fff"/>
<polygon points="3292.1,421.4 3303.7,421.4 3303.7,435.4 3292.1,435.4" fill="#fff"/>
<clipPath id="cyc">
<polygon points="269.4,312.3 277.1,308.0 283.5,278.1 292.0,243.9 307.0,231.1 328.3,224.7 349.7,220.5 358.2,235.4 388.1,256.8 396.6,235.4 403.0,192.7 407.3,173.5 447.9,184.2 445.7,201.2 435.1,214.1 430.8,243.9 422.3,278.1 405.2,312.3 400.9,342.2 396.6,389.1 398.8,414.7 439.3,406.2 445.7,393.4 456.4,410.5 473.5,423.3 482.0,444.6 516.2,431.8 524.7,410.5 537.6,408.3 558.9,431.8 576.0,457.4 588.8,461.7 601.6,487.3 614.4,504.4 601.6,521.5 593.1,551.4 584.5,559.9 576.0,551.4 558.9,555.7 554.6,536.4 522.6,523.6 488.4,515.1 456.4,498.0 422.3,478.8 388.1,478.8 356.1,466.0 324.1,453.2 302.7,457.4 285.6,440.4 269.4,453.2"/>
<polygon points="343.3,182.0 351.8,182.0 351.8,222.6 343.3,222.6"/>
<polygon points="629.4,290.9 637.9,290.9 640.0,320.8 631.5,325.1"/>
<polygon points="650.7,329.3 657.1,329.3 659.2,350.7 652.8,350.7"/>
<polygon points="567.4,559.9 584.5,559.9 588.8,598.4 573.8,596.2"/>
<polygon points="669.9,278.1 687.0,256.8 704.1,290.9 712.6,320.8 738.2,299.5 757.5,297.3 763.9,342.2 761.7,389.1 757.5,427.6 761.7,466.0 755.3,457.4 746.8,423.3 725.4,427.6 712.6,401.9 708.4,372.0 687.0,355.0 669.9,337.9 665.7,303.7"/>
<polygon points="618.7,525.8 631.5,508.7 644.3,504.4 669.9,498.0 704.1,495.9 738.2,491.6 772.4,491.6 800.2,491.6 802.3,525.8 815.1,521.5 834.3,504.4 840.7,498.0 857.8,513.0 874.9,504.4 896.2,474.5 900.5,504.4 917.6,521.5 926.1,525.8 943.2,534.3 960.3,521.5 985.9,525.8 1003.0,542.8 1024.3,559.9 1041.4,551.4 1058.5,534.3 1084.1,525.8 1109.7,517.2 1120.0,491.6 1120.0,662.4 1096.9,675.2 1084.1,658.1 1054.2,662.4 1028.6,670.9 985.9,662.4 951.7,658.1 934.7,632.5 919.7,615.4 904.8,632.5 900.5,683.8 883.4,692.3 853.5,688.0 832.2,675.2 819.4,658.1 804.4,653.9 804.4,611.2 785.2,596.2 751.1,589.8 721.2,581.3 704.1,572.7 687.0,551.4 652.8,545.0 635.8,540.7 618.7,532.2"/>
<polygon points="1100.0,491.6 1125.6,487.3 1142.7,491.6 1168.3,504.4 1185.4,517.2 1206.8,508.7 1228.1,517.2 1240.9,521.5 1249.5,491.6 1279.3,500.1 1305.0,491.6 1339.1,491.6 1356.2,504.4 1373.3,530.0 1398.9,536.4 1433.1,525.8 1467.2,513.0 1505.7,521.5 1531.3,532.2 1548.4,536.4 1569.7,542.8 1574.0,577.0 1569.7,619.7 1571.8,675.2 1565.4,683.8 1531.3,679.5 1522.7,645.3 1501.4,628.2 1475.8,653.9 1467.2,681.6 1300.7,679.5 1240.9,653.9 1236.6,619.7 1240.9,577.0 1228.1,559.9 1206.8,559.9 1198.2,534.3 1168.3,534.3 1164.1,577.0 1125.6,577.0 1121.4,619.7 1117.1,653.9 1100.0,658.1"/>
<polygon points="1141.8,431.8 1147.8,423.3 1150.4,463.8 1143.6,466.0"/>
<polygon points="1153.4,412.6 1161.9,401.9 1164.1,448.9 1156.4,457.4"/>
<polygon points="1167.5,406.2 1174.7,406.2 1172.6,444.6 1168.3,444.6"/>
<polygon points="1185.4,431.8 1191.8,431.8 1193.1,466.0 1187.5,470.3"/>
<polygon points="1251.6,444.6 1258.0,444.6 1258.8,487.3 1252.9,487.3"/>
<polygon points="1272.9,448.9 1278.5,448.9 1281.5,487.3 1275.1,487.3"/>
<polygon points="1253.7,316.5 1283.6,310.1 1283.6,325.1 1255.9,324.2"/>
<polygon points="1548.0,532.0 1578.0,532.0 1579.2,577.0 1573.0,622.0 1570.5,679.5 1548.0,682.0"/>
<polygon points="1628.0,582.0 1663.0,584.5 1664.2,634.5 1658.0,669.5 1648.0,669.5 1633.0,622.0"/>
<polygon points="1618.0,534.5 1630.5,532.0 1645.5,539.5 1648.0,582.0 1628.0,582.0 1620.5,562.0"/>
<polygon points="1745.5,539.5 1763.0,532.0 1795.5,519.5 1823.0,522.0 1843.0,527.0 1848.0,562.0 1855.5,622.0 1863.0,667.0 1855.5,674.5 1763.0,674.5 1755.5,642.0 1748.0,584.5 1743.0,582.0"/>
<polygon points="2019.2,422.0 2085.5,422.0 2085.5,452.0 2073.0,457.0 2068.0,462.0 2028.0,457.0"/>
<polygon points="1868.0,183.9 1881.9,183.9 1900.6,360.9 1891.2,360.9"/>
<polygon points="1891.2,193.2 1928.5,188.5 1956.5,253.7 1975.1,300.3 1984.4,360.9 1979.8,416.8 1933.2,421.5 1909.9,360.9 1895.9,263.1"/>
<polygon points="1944.8,200.2 1954.1,200.2 1972.8,300.3 1965.8,300.3"/>
<polygon points="1984.4,193.2 1993.7,190.8 2000.7,230.4 1993.7,230.4"/>
<polygon points="2021.7,235.1 2031.0,235.1 2040.3,360.9 2035.7,426.1 2026.3,454.1 2017.0,360.9"/>
<polygon points="2045.0,379.5 2082.3,360.9 2086.9,426.1 2072.9,458.7 2045.0,454.1"/>
<polygon points="2155.4,193.2 2161.9,193.2 2164.7,449.4 2158.2,449.4"/>
<polygon points="2176.8,286.3 2184.3,286.3 2187.1,449.4 2179.6,449.4"/>
<polygon points="2239.7,183.9 2243.4,183.9 2245.3,253.7 2241.6,253.7"/>
<polygon points="2250.0,379.5 2259.3,384.2 2287.2,421.5 2289.6,472.7 2273.3,491.3 2250.0,468.0 2236.0,454.1 2238.3,426.1"/>
<polygon points="2324.5,193.2 2333.8,167.6 2336.2,193.2 2361.8,190.8 2371.1,183.9 2385.1,235.1 2389.7,286.3 2394.4,323.6 2399.0,360.9 2403.7,351.6 2406.0,379.5 2436.3,388.8 2445.6,370.2 2459.6,379.5 2480.6,319.0 2487.6,293.3 2492.2,323.6 2510.9,305.0 2515.5,346.9 2524.8,379.5 2534.2,388.8 2543.5,337.6 2548.1,379.5 2576.1,367.9 2585.4,398.2 2594.7,342.3 2599.4,398.2 2613.4,319.0 2615.7,398.2 2632.0,393.5 2650.6,416.8 2659.9,472.7 2666.9,468.0 2669.3,519.3 2678.6,565.9 2687.9,603.1 2694.9,649.7 2632.0,666.0 2459.6,654.4 2389.7,666.0 2324.5,670.7 2259.3,663.7 2250.0,612.5 2240.7,584.5 2226.7,565.9 2212.7,542.6 2208.0,526.3 2226.7,523.9 2245.3,547.2 2287.2,565.9 2324.5,519.3 2329.2,472.7 2333.8,426.1 2326.8,332.9 2322.2,263.1"/>
<polygon points="2304.9,179.2 2308.7,179.2 2310.5,239.8 2306.8,239.8"/>
<polygon points="2640.0,421.4 2654.0,435.4 2667.9,519.2 2686.6,589.1 2691.2,665.9 2640.0,665.9"/>
<polygon points="2726.2,649.6 2728.5,519.2 2740.1,402.7 2747.1,398.1 2751.8,454.0 2754.1,649.6"/>
<polygon points="2779.7,665.9 2784.4,565.8 2793.7,449.3 2812.3,379.5 2819.3,365.5 2826.3,398.1 2844.9,388.8 2847.3,665.9"/>
<polygon points="2849.6,388.8 2854.3,370.1 2868.2,314.3 2877.5,332.9 2884.5,286.3 2891.5,388.8 2910.1,360.8 2914.8,267.7 2919.5,263.0 2926.4,360.8 2942.7,398.1 2956.7,454.0 2966.0,519.2 2975.4,565.8 2994.0,612.3 3003.3,665.9 2849.6,665.9"/>
<polygon points="2691.2,665.9 2726.2,649.6 2779.7,665.9"/>
<polygon points="3003.3,665.9 2998.6,565.8 3012.6,509.9 3026.6,426.0 3031.2,398.1 3096.5,416.7 3098.8,565.8 3087.1,589.1 3059.2,665.9"/>
<polygon points="3042.9,277.0 3049.9,258.4 3087.1,253.7 3094.1,426.0 3045.2,426.0"/>
<polygon points="3087.1,426.0 3105.8,360.8 3143.0,332.9 3145.4,304.9 3180.3,304.9 3184.9,360.8 3194.3,342.2 3198.9,300.3 3217.6,286.3 3338.6,286.3 3357.3,332.9 3385.2,379.5 3389.9,435.4 3375.9,472.6 3357.3,505.2 3338.6,509.9 3301.4,505.2 3268.8,565.8 3233.9,528.5 3201.2,523.8 3167.7,519.2 3135.1,537.8 3101.1,535.5 3087.1,565.8"/>
<polygon points="3539.7,269.6 3546.5,264.1 3557.4,266.8 3600.9,266.8 3602.2,313.0 3595.4,356.5 3584.6,394.6 3592.7,421.7 3591.4,448.9 3584.6,462.5 3565.5,465.2 3530.2,470.7 3513.9,476.1 3505.8,448.9 3508.5,408.2 3513.9,394.6 3530.2,389.1 3538.4,356.5 3541.1,313.0"/>
<polygon points="3503.0,315.8 3509.8,315.8 3513.9,394.6 3507.1,394.6"/>
<polygon points="3454.1,372.8 3467.7,367.4 3492.2,372.8 3494.9,394.6 3481.3,421.7 3475.9,476.1 3467.7,489.7 3456.8,462.5"/>
<polygon points="3600.9,313.0 3611.7,323.9 3628.0,313.0 3636.2,340.2 3633.5,386.4 3617.2,378.3 3603.6,367.4"/>
<polygon points="3609.0,209.8 3622.6,198.9 3636.2,204.3 3636.2,239.7 3622.6,231.5 3611.7,228.8"/>
<polygon points="3409.3,258.7 3421.5,256.0 3425.6,291.3 3418.8,302.2 3412.0,291.3"/>
<polygon points="3394.3,345.7 3406.6,337.5 3409.3,372.8 3401.1,367.4"/>
<polygon points="3380.8,226.1 3388.9,223.4 3391.6,280.4 3383.5,280.4"/>
<polygon points="3420.2,212.5 3424.8,212.5 3424.8,223.4 3420.2,223.4"/>
<polygon points="3387.6,167.7 3398.4,167.7 3399.8,178.5 3387.6,177.2"/>
<polygon points="3432.4,337.5 3443.3,337.5 3448.7,362.0 3437.8,356.5"/>
</clipPath>
<g clip-path="url(#cyc)">
<rect x="266" y="300" width="150" height="170" fill="url(#nPl)"/>
<rect x="266" y="380" width="40" height="80" fill="url(#nPd)"/>
<rect x="400" y="400" width="206" height="170" fill="url(#nPd)"/>
<rect x="606" y="480" width="960" height="220" fill="url(#nP)"/>
<rect x="1566" y="480" width="320" height="220" fill="url(#nP)"/>
<rect x="1866" y="112" width="330" height="200" fill="url(#nPl)"/>
<rect x="1866" y="312" width="330" height="200" fill="url(#nPd)"/>
<rect x="1866" y="112" width="470" height="400" fill="url(#nWs2)"/>
<rect x="3040" y="410" width="350" height="90" fill="url(#nP)"/>
<rect x="3040" y="500" width="350" height="80" fill="url(#nPd)"/>
<rect x="3400" y="360" width="240" height="140" fill="url(#nPd)"/>
<rect x="3400" y="180" width="240" height="330" fill="url(#nWs)"/>
<rect x="2330" y="180" width="650" height="230" fill="url(#nWs)"/>
<rect x="2305" y="580" width="90" height="85" fill="url(#nPl)"/>
<rect x="2300" y="180" width="55" height="260" fill="url(#nWs2)"/>
<rect x="2355" y="180" width="40" height="200" fill="url(#nWs)"/>
</g>
<polygon points="2017.0,360.9 2086.9,351.6 2086.9,463.4 2017.0,454.1" fill="url(#nPd)"/>
<polygon points="2017.0,360.9 2086.9,351.6 2086.9,463.4 2017.0,454.1" fill="url(#nCs)"/>
<rect x="2157" y="300" width="34" height="150" fill="url(#nP)"/>
<polygon points="3454.1,372.8 3467.7,367.4 3492.2,372.8 3494.9,394.6 3481.3,421.7 3475.9,476.1 3467.7,489.7 3456.8,462.5" fill="url(#nWs3)"/>
<polygon points="3600.9,313.0 3611.7,323.9 3628.0,313.0 3636.2,340.2 3633.5,386.4 3617.2,378.3 3603.6,367.4" fill="url(#nWs3)"/>
<polygon points="3609.0,209.8 3622.6,198.9 3636.2,204.3 3636.2,239.7 3622.6,231.5 3611.7,228.8" fill="url(#nWs3)"/>
<polygon points="3409.3,258.7 3421.5,256.0 3425.6,291.3 3418.8,302.2 3412.0,291.3" fill="url(#nWs3)"/>
<polygon points="3394.3,345.7 3406.6,337.5 3409.3,372.8 3401.1,367.4" fill="url(#nWs3)"/>
<polygon points="3432.4,337.5 3443.3,337.5 3448.7,362.0 3437.8,356.5" fill="url(#nWs3)"/>
<polygon points="505.0,567.0 560.0,563.2 607.5,569.5 607.5,579.5 560.0,573.2 505.0,574.5" fill="#ffb6c1"/>
<polygon points="1578.0,574.5 1630.5,582.0 1630.5,587.0 1578.0,584.5 1548.0,602.0 1548.0,594.5" fill="#ffb6c1"/>
<polygon points="1658.0,597.0 1708.0,598.2 1708.0,608.2 1658.0,607.0" fill="#ffb6c1"/>
<polygon points="1366.5,512.0 1466.5,509.5 1466.5,532.0 1416.5,539.5 1366.5,534.5" fill="#ffb6c1"/>
<polygon points="1231.5,497.0 1254.0,504.5 1254.0,532.0 1231.5,532.0" fill="#ffb6c1"/>
<polygon points="306.1,478.0 339.9,478.0 323.0,449.0" fill="#ff0000"/>
<polygon points="339.2,490.5 373.0,490.5 356.1,461.5" fill="#ff0000"/>
<polygon points="372.2,500.5 406.0,500.5 389.1,471.5" fill="#ff0000"/>
<polygon points="405.3,282.5 439.1,282.5 422.2,253.5" fill="#ff0000"/>
<polygon points="438.3,523.0 472.1,523.0 455.2,494.0" fill="#ff0000"/>
<polygon points="471.4,541.0 505.2,541.0 488.3,512.0" fill="#ff0000"/>
<polygon points="504.5,548.0 538.3,548.0 521.4,519.0" fill="#ff0000"/>
<polygon points="537.5,560.5 571.3,560.5 554.4,531.5" fill="#ff0000"/>
<polygon points="570.6,601.0 604.4,601.0 587.5,572.0" fill="#ff0000"/>
<polygon points="636.7,545.8 670.5,545.8 653.6,516.8" fill="#ff0000"/>
<polygon points="669.8,357.8 703.6,357.8 686.7,328.8" fill="#ff0000"/>
<polygon points="702.8,377.5 736.6,377.5 719.7,348.5" fill="#ff0000"/>
<polygon points="735.9,404.8 769.7,404.8 752.8,375.8" fill="#ff0000"/>
<polygon points="768.9,612.2 802.7,612.2 785.8,583.2" fill="#ff0000"/>
<polygon points="802.0,660.5 835.8,660.5 818.9,631.5" fill="#ff0000"/>
<polygon points="835.1,685.5 868.9,685.5 852.0,656.5" fill="#ff0000"/>
<polygon points="868.1,688.5 901.9,688.5 885.0,659.5" fill="#ff0000"/>
<polygon points="901.2,631.0 935.0,631.0 918.1,602.0" fill="#ff0000"/>
<polygon points="934.2,656.0 968.0,656.0 951.1,627.0" fill="#ff0000"/>
<polygon points="967.3,658.0 1001.1,658.0 984.2,629.0" fill="#ff0000"/>
<polygon points="1000.4,665.5 1034.2,665.5 1017.3,636.5" fill="#ff0000"/>
<polygon points="1066.5,661.0 1100.3,661.0 1083.4,632.0" fill="#ff0000"/>
<polygon points="1099.5,577.8 1133.3,577.8 1116.4,548.8" fill="#ff0000"/>
<polygon points="1132.6,585.8 1166.4,585.8 1149.5,556.8" fill="#ff0000"/>
<polygon points="1165.7,547.5 1199.5,547.5 1182.6,518.5" fill="#ff0000"/>
<polygon points="1198.7,560.2 1232.5,560.2 1215.6,531.2" fill="#ff0000"/>
<polygon points="1231.8,671.0 1265.6,671.0 1248.7,642.0" fill="#ff0000"/>
<polygon points="1264.8,673.0 1298.6,673.0 1281.7,644.0" fill="#ff0000"/>
<polygon points="1297.9,688.5 1331.7,688.5 1314.8,659.5" fill="#ff0000"/>
<polygon points="1331.0,688.5 1364.8,688.5 1347.9,659.5" fill="#ff0000"/>
<polygon points="1364.0,683.5 1397.8,683.5 1380.9,654.5" fill="#ff0000"/>
<polygon points="1397.1,683.5 1430.9,683.5 1414.0,654.5" fill="#ff0000"/>
<polygon points="1430.1,683.5 1463.9,683.5 1447.0,654.5" fill="#ff0000"/>
<polygon points="1463.2,653.5 1497.0,653.5 1480.1,624.5" fill="#ff0000"/>
<polygon points="1496.3,648.5 1530.1,648.5 1513.2,619.5" fill="#ff0000"/>
<polygon points="1529.3,686.0 1563.1,686.0 1546.2,657.0" fill="#ff0000"/>
<polygon points="1562.4,575.0 1596.2,575.0 1579.3,546.0" fill="#ff0000"/>
<polygon points="1628.5,656.0 1662.3,656.0 1645.4,627.0" fill="#ff0000"/>
<polygon points="1694.6,977.0 1728.4,977.0 1711.5,948.0" fill="#ff0000"/>
<polygon points="1727.7,585.8 1761.5,585.8 1744.6,556.8" fill="#ff0000"/>
<polygon points="1760.7,681.0 1794.5,681.0 1777.6,652.0" fill="#ff0000"/>
<polygon points="1793.8,676.0 1827.6,676.0 1810.7,647.0" fill="#ff0000"/>
<polygon points="1826.9,678.5 1860.7,678.5 1843.8,649.5" fill="#ff0000"/>
<polygon points="1859.9,277.5 1893.7,277.5 1876.8,248.5" fill="#ff0000"/>
<polygon points="1893.0,409.8 1926.8,409.8 1909.9,380.8" fill="#ff0000"/>
<polygon points="1926.0,422.2 1959.8,422.2 1942.9,393.2" fill="#ff0000"/>
<polygon points="1992.2,354.5 2026.0,354.5 2009.1,325.5" fill="#ff0000"/>
<polygon points="2025.2,465.2 2059.0,465.2 2042.1,436.2" fill="#ff0000"/>
<polygon points="2091.3,404.2 2125.1,404.2 2108.2,375.2" fill="#ff0000"/>
<polygon points="2124.4,977.0 2158.2,977.0 2141.3,948.0" fill="#ff0000"/>
<polygon points="2157.5,449.0 2191.3,449.0 2174.4,420.0" fill="#ff0000"/>
<polygon points="2223.6,611.0 2257.4,611.0 2240.5,582.0" fill="#ff0000"/>
<polygon points="2256.6,481.0 2290.4,481.0 2273.5,452.0" fill="#ff0000"/>
<polygon points="2289.7,417.2 2323.5,417.2 2306.6,388.2" fill="#ff0000"/>
<polygon points="2322.8,686.0 2356.6,686.0 2339.7,657.0" fill="#ff0000"/>
<polygon points="2355.8,676.0 2389.6,676.0 2372.7,647.0" fill="#ff0000"/>
<polygon points="2388.9,691.0 2422.7,691.0 2405.8,662.0" fill="#ff0000"/>
<polygon points="2421.9,688.5 2455.7,688.5 2438.8,659.5" fill="#ff0000"/>
<polygon points="2455.0,668.0 2488.8,668.0 2471.9,639.0" fill="#ff0000"/>
<polygon points="2488.1,671.0 2521.9,671.0 2505.0,642.0" fill="#ff0000"/>
<polygon points="2521.1,673.5 2554.9,673.5 2538.0,644.5" fill="#ff0000"/>
<polygon points="2554.2,670.5 2588.0,670.5 2571.1,641.5" fill="#ff0000"/>
<polygon points="2587.2,675.2 2621.0,675.2 2604.1,646.2" fill="#ff0000"/>
<polygon points="2620.3,688.5 2654.1,688.5 2637.2,659.5" fill="#ff0000"/>
<polygon points="2653.4,678.5 2687.2,678.5 2670.3,649.5" fill="#ff0000"/>
<polygon points="2686.4,686.0 2720.2,686.0 2703.3,657.0" fill="#ff0000"/>
<polygon points="2719.5,665.5 2753.3,665.5 2736.4,636.5" fill="#ff0000"/>
<polygon points="2752.5,749.8 2786.3,749.8 2769.4,720.8" fill="#ff0000"/>
<polygon points="2785.6,678.0 2819.4,678.0 2802.5,649.0" fill="#ff0000"/>
<polygon points="2818.7,669.0 2852.5,669.0 2835.6,640.0" fill="#ff0000"/>
<polygon points="2851.7,678.5 2885.5,678.5 2868.6,649.5" fill="#ff0000"/>
<polygon points="2884.8,668.0 2918.6,668.0 2901.7,639.0" fill="#ff0000"/>
<polygon points="2917.8,668.0 2951.6,668.0 2934.7,639.0" fill="#ff0000"/>
<polygon points="2950.9,688.5 2984.7,688.5 2967.8,659.5" fill="#ff0000"/>
<polygon points="2984.0,663.5 3017.8,663.5 3000.9,634.5" fill="#ff0000"/>
<polygon points="3017.0,690.5 3050.8,690.5 3033.9,661.5" fill="#ff0000"/>
<polygon points="3050.1,633.0 3083.9,633.0 3067.0,604.0" fill="#ff0000"/>
<polygon points="3083.1,551.0 3116.9,551.0 3100.0,522.0" fill="#ff0000"/>
<polygon points="3116.2,555.5 3150.0,555.5 3133.1,526.5" fill="#ff0000"/>
<polygon points="3149.3,538.5 3183.1,538.5 3166.2,509.5" fill="#ff0000"/>
<polygon points="3182.3,540.5 3216.1,540.5 3199.2,511.5" fill="#ff0000"/>
<polygon points="3215.4,545.5 3249.2,545.5 3232.3,516.5" fill="#ff0000"/>
<polygon points="3248.4,570.5 3282.2,570.5 3265.3,541.5" fill="#ff0000"/>
<polygon points="3281.5,522.2 3315.3,522.2 3298.4,493.2" fill="#ff0000"/>
<polygon points="3314.6,525.2 3348.4,525.2 3331.5,496.2" fill="#ff0000"/>
<polygon points="3347.6,491.0 3381.4,491.0 3364.5,462.0" fill="#ff0000"/>
<polygon points="3413.7,402.5 3447.5,402.5 3430.6,373.5" fill="#ff0000"/>
<polygon points="3446.8,427.0 3480.6,427.0 3463.7,398.0" fill="#ff0000"/>
<polygon points="3479.9,477.0 3513.7,477.0 3496.8,448.0" fill="#ff0000"/>
<polygon points="3512.9,471.0 3546.7,471.0 3529.8,442.0" fill="#ff0000"/>
<polygon points="3546.0,467.2 3579.8,467.2 3562.9,438.2" fill="#ff0000"/>
<polygon points="3579.0,412.8 3612.8,412.8 3595.9,383.8" fill="#ff0000"/>
<polygon points="3612.1,270.0 3645.9,270.0 3629.0,241.0" fill="#ff0000"/>
<polygon points="306.1,235.2 339.9,235.2 323.0,264.2" fill="#ff0000"/>
<polygon points="339.2,293.0 373.0,293.0 356.1,322.0" fill="#ff0000"/>
<polygon points="372.2,275.0 406.0,275.0 389.1,304.0" fill="#ff0000"/>
<polygon points="405.3,175.0 439.1,175.0 422.2,204.0" fill="#ff0000"/>
<polygon points="438.3,405.0 472.1,405.0 455.2,434.0" fill="#ff0000"/>
<polygon points="471.4,438.2 505.2,438.2 488.3,467.2" fill="#ff0000"/>
<polygon points="504.5,435.2 538.3,435.2 521.4,464.2" fill="#ff0000"/>
<polygon points="537.5,415.5 571.3,415.5 554.4,444.5" fill="#ff0000"/>
<polygon points="570.6,471.2 604.4,471.2 587.5,500.2" fill="#ff0000"/>
<polygon points="636.7,496.2 670.5,496.2 653.6,525.2" fill="#ff0000"/>
<polygon points="669.8,275.5 703.6,275.5 686.7,304.5" fill="#ff0000"/>
<polygon points="702.8,325.5 736.6,325.5 719.7,354.5" fill="#ff0000"/>
<polygon points="735.9,305.2 769.7,305.2 752.8,334.2" fill="#ff0000"/>
<polygon points="768.9,488.2 802.7,488.2 785.8,517.2" fill="#ff0000"/>
<polygon points="802.0,523.0 835.8,523.0 818.9,552.0" fill="#ff0000"/>
<polygon points="835.1,520.5 868.9,520.5 852.0,549.5" fill="#ff0000"/>
<polygon points="868.1,478.2 901.9,478.2 885.0,507.2" fill="#ff0000"/>
<polygon points="901.2,502.0 935.0,502.0 918.1,531.0" fill="#ff0000"/>
<polygon points="934.2,521.2 968.0,521.2 951.1,550.2" fill="#ff0000"/>
<polygon points="967.3,505.5 1001.1,505.5 984.2,534.5" fill="#ff0000"/>
<polygon points="1000.4,546.2 1034.2,546.2 1017.3,575.2" fill="#ff0000"/>
<polygon points="1066.5,501.2 1100.3,501.2 1083.4,530.2" fill="#ff0000"/>
<polygon points="1099.5,483.2 1133.3,483.2 1116.4,512.2" fill="#ff0000"/>
<polygon points="1132.6,483.2 1166.4,483.2 1149.5,512.2" fill="#ff0000"/>
<polygon points="1165.7,493.2 1199.5,493.2 1182.6,522.2" fill="#ff0000"/>
<polygon points="1198.7,496.2 1232.5,496.2 1215.6,525.2" fill="#ff0000"/>
<polygon points="1231.8,476.2 1265.6,476.2 1248.7,505.2" fill="#ff0000"/>
<polygon points="1264.8,483.2 1298.6,483.2 1281.7,512.2" fill="#ff0000"/>
<polygon points="1297.9,481.2 1331.7,481.2 1314.8,510.2" fill="#ff0000"/>
<polygon points="1331.0,486.2 1364.8,486.2 1347.9,515.2" fill="#ff0000"/>
<polygon points="1364.0,496.2 1397.8,496.2 1380.9,525.2" fill="#ff0000"/>
<polygon points="1397.1,508.2 1430.9,508.2 1414.0,537.2" fill="#ff0000"/>
<polygon points="1430.1,511.2 1463.9,511.2 1447.0,540.2" fill="#ff0000"/>
<polygon points="1463.2,498.0 1497.0,498.0 1480.1,527.0" fill="#ff0000"/>
<polygon points="1496.3,508.2 1530.1,508.2 1513.2,537.2" fill="#ff0000"/>
<polygon points="1529.3,516.2 1563.1,516.2 1546.2,545.2" fill="#ff0000"/>
<polygon points="1562.4,517.0 1596.2,517.0 1579.3,546.0" fill="#ff0000"/>
<polygon points="1628.5,583.8 1662.3,583.8 1645.4,612.8" fill="#ff0000"/>
<polygon points="1727.7,543.8 1761.5,543.8 1744.6,572.8" fill="#ff0000"/>
<polygon points="1760.7,511.2 1794.5,511.2 1777.6,540.2" fill="#ff0000"/>
<polygon points="1793.8,518.2 1827.6,518.2 1810.7,547.2" fill="#ff0000"/>
<polygon points="1826.9,601.2 1860.7,601.2 1843.8,630.2" fill="#ff0000"/>
<polygon points="1859.9,235.2 1893.7,235.2 1876.8,264.2" fill="#ff0000"/>
<polygon points="1893.0,180.2 1926.8,180.2 1909.9,209.2" fill="#ff0000"/>
<polygon points="1926.0,248.2 1959.8,248.2 1942.9,277.2" fill="#ff0000"/>
<polygon points="1992.2,298.2 2026.0,298.2 2009.1,327.2" fill="#ff0000"/>
<polygon points="2025.2,365.8 2059.0,365.8 2042.1,394.8" fill="#ff0000"/>
<polygon points="2091.3,355.0 2125.1,355.0 2108.2,384.0" fill="#ff0000"/>
<polygon points="2157.5,355.5 2191.3,355.5 2174.4,384.5" fill="#ff0000"/>
<polygon points="2223.6,543.8 2257.4,543.8 2240.5,572.8" fill="#ff0000"/>
<polygon points="2256.6,413.0 2290.4,413.0 2273.5,442.0" fill="#ff0000"/>
<polygon points="2289.7,298.2 2323.5,298.2 2306.6,327.2" fill="#ff0000"/>
<polygon points="2322.8,255.5 2356.6,255.5 2339.7,284.5" fill="#ff0000"/>
<polygon points="2355.8,210.5 2389.6,210.5 2372.7,239.5" fill="#ff0000"/>
<polygon points="2388.9,358.2 2422.7,358.2 2405.8,387.2" fill="#ff0000"/>
<polygon points="2421.9,375.0 2455.7,375.0 2438.8,404.0" fill="#ff0000"/>
<polygon points="2455.0,360.0 2488.8,360.0 2471.9,389.0" fill="#ff0000"/>
<polygon points="2488.1,348.2 2521.9,348.2 2505.0,377.2" fill="#ff0000"/>
<polygon points="2521.1,385.0 2554.9,385.0 2538.0,414.0" fill="#ff0000"/>
<polygon points="2554.2,395.0 2588.0,395.0 2571.1,424.0" fill="#ff0000"/>
<polygon points="2587.2,395.0 2621.0,395.0 2604.1,424.0" fill="#ff0000"/>
<polygon points="2620.3,410.5 2654.1,410.5 2637.2,439.5" fill="#ff0000"/>
<polygon points="2653.4,546.2 2687.2,546.2 2670.3,575.2" fill="#ff0000"/>
<polygon points="2686.4,616.2 2720.2,616.2 2703.3,645.2" fill="#ff0000"/>
<polygon points="2719.5,481.2 2753.3,481.2 2736.4,510.2" fill="#ff0000"/>
<polygon points="2752.5,608.2 2786.3,608.2 2769.4,637.2" fill="#ff0000"/>
<polygon points="2785.6,412.5 2819.4,412.5 2802.5,441.5" fill="#ff0000"/>
<polygon points="2818.7,383.2 2852.5,383.2 2835.6,412.2" fill="#ff0000"/>
<polygon points="2851.7,343.2 2885.5,343.2 2868.6,372.2" fill="#ff0000"/>
<polygon points="2884.8,363.2 2918.6,363.2 2901.7,392.2" fill="#ff0000"/>
<polygon points="2917.8,375.0 2951.6,375.0 2934.7,404.0" fill="#ff0000"/>
<polygon points="2950.9,526.5 2984.7,526.5 2967.8,555.5" fill="#ff0000"/>
<polygon points="2984.0,488.2 3017.8,488.2 3000.9,517.2" fill="#ff0000"/>
<polygon points="3017.0,385.0 3050.8,385.0 3033.9,414.0" fill="#ff0000"/>
<polygon points="3050.1,275.0 3083.9,275.0 3067.0,304.0" fill="#ff0000"/>
<polygon points="3083.1,350.0 3116.9,350.0 3100.0,379.0" fill="#ff0000"/>
<polygon points="3116.2,428.2 3150.0,428.2 3133.1,457.2" fill="#ff0000"/>
<polygon points="3149.3,293.0 3183.1,293.0 3166.2,322.0" fill="#ff0000"/>
<polygon points="3182.3,330.5 3216.1,330.5 3199.2,359.5" fill="#ff0000"/>
<polygon points="3215.4,282.2 3249.2,282.2 3232.3,311.2" fill="#ff0000"/>
<polygon points="3248.4,290.5 3282.2,290.5 3265.3,319.5" fill="#ff0000"/>
<polygon points="3281.5,293.5 3315.3,293.5 3298.4,322.5" fill="#ff0000"/>
<polygon points="3314.6,313.2 3348.4,313.2 3331.5,342.2" fill="#ff0000"/>
<polygon points="3347.6,365.5 3381.4,365.5 3364.5,394.5" fill="#ff0000"/>
<polygon points="3413.7,355.0 3447.5,355.0 3430.6,384.0" fill="#ff0000"/>
<polygon points="3446.8,388.2 3480.6,388.2 3463.7,417.2" fill="#ff0000"/>
<polygon points="3479.9,422.0 3513.7,422.0 3496.8,451.0" fill="#ff0000"/>
<polygon points="3512.9,353.2 3546.7,353.2 3529.8,382.2" fill="#ff0000"/>
<polygon points="3546.0,259.8 3579.8,259.8 3562.9,288.8" fill="#ff0000"/>
<polygon points="3579.0,278.0 3612.8,278.0 3595.9,307.0" fill="#ff0000"/>
<polygon points="3612.1,182.0 3645.9,182.0 3629.0,211.0" fill="#ff0000"/>
<polygon points="405.3,500.5 439.1,500.5 422.2,471.5" fill="#ff0000"/><polygon points="413.6,495.5 430.8,495.5 422.2,480.7" fill="#fff"/>
<polygon points="669.8,552.8 703.6,552.8 686.7,523.8" fill="#ff0000"/><polygon points="678.1,547.8 695.3,547.8 686.7,533.0" fill="#fff"/>
<polygon points="702.8,598.5 736.6,598.5 719.7,569.5" fill="#ff0000"/><polygon points="711.1,593.5 728.3,593.5 719.7,578.7" fill="#fff"/>
<polygon points="735.9,605.2 769.7,605.2 752.8,576.2" fill="#ff0000"/><polygon points="744.2,600.2 761.4,600.2 752.8,585.5" fill="#fff"/>
<polygon points="2256.6,681.0 2290.4,681.0 2273.5,652.0" fill="#ff0000"/><polygon points="2264.9,676.0 2282.1,676.0 2273.5,661.2" fill="#fff"/>
<polygon points="2289.7,681.0 2323.5,681.0 2306.6,652.0" fill="#ff0000"/><polygon points="2298.0,676.0 2315.2,676.0 2306.6,661.2" fill="#fff"/>
<polygon points="405.3,438.2 439.1,438.2 422.2,467.2" fill="#ff0000"/><polygon points="413.6,443.2 430.8,443.2 422.2,458.1" fill="#fff"/>
<polygon points="669.8,498.2 703.6,498.2 686.7,527.2" fill="#ff0000"/><polygon points="678.1,503.2 695.3,503.2 686.7,518.0" fill="#fff"/>
<polygon points="702.8,491.5 736.6,491.5 719.7,520.5" fill="#ff0000"/><polygon points="711.1,496.5 728.3,496.5 719.7,511.3" fill="#fff"/>
<polygon points="735.9,488.2 769.7,488.2 752.8,517.2" fill="#ff0000"/><polygon points="744.2,493.2 761.4,493.2 752.8,508.1" fill="#fff"/>
<polygon points="2256.6,543.8 2290.4,543.8 2273.5,572.8" fill="#ff0000"/><polygon points="2264.9,548.8 2282.1,548.8 2273.5,563.5" fill="#fff"/>
<polygon points="2289.7,518.2 2323.5,518.2 2306.6,547.2" fill="#ff0000"/><polygon points="2298.0,523.2 2315.2,523.2 2306.6,538.0" fill="#fff"/>
<path d="M455.2 637.0V650.8M429.2 637.0h52M429.2 650.8h52" stroke="#32cd32" stroke-width="3.5" fill="none"/>
<circle cx="455.2" cy="643.8" r="16.5" fill="#32cd32"/>
<path d="M488.3 560.2V576.2M462.3 560.2h52M462.3 576.2h52" stroke="#32cd32" stroke-width="3.5" fill="none"/>
<circle cx="488.3" cy="568.2" r="16.5" fill="#32cd32"/>
<path d="M521.4 601.2V622.0M495.4 601.2h52M495.4 622.0h52" stroke="#32cd32" stroke-width="3.5" fill="none"/>
<circle cx="521.4" cy="612.0" r="16.5" fill="#32cd32"/>
<path d="M554.4 493.2V509.5M528.4 493.2h52M528.4 509.5h52" stroke="#32cd32" stroke-width="3.5" fill="none"/>
<circle cx="554.4" cy="502.0" r="16.5" fill="#32cd32"/>
<path d="M587.5 465.0V509.0M561.5 465.0h52M561.5 509.0h52" stroke="#32cd32" stroke-width="3.5" fill="none"/>
<circle cx="587.5" cy="487.0" r="16.5" fill="#32cd32"/>
<path d="M620.5 627.0V668.2M594.5 627.0h52M594.5 668.2h52" stroke="#32cd32" stroke-width="3.5" fill="none"/>
<circle cx="620.5" cy="648.2" r="16.5" fill="#32cd32"/>
<path d="M653.6 641.2V667.0M627.6 641.2h52M627.6 667.0h52" stroke="#32cd32" stroke-width="3.5" fill="none"/>
<circle cx="653.6" cy="653.8" r="16.5" fill="#32cd32"/>
<path d="M785.8 465.0V474.0M759.8 465.0h52M759.8 474.0h52" stroke="#32cd32" stroke-width="3.5" fill="none"/>
<circle cx="785.8" cy="469.5" r="16.5" fill="#32cd32"/>
<path d="M818.9 532.0V539.0M792.9 532.0h52M792.9 539.0h52" stroke="#32cd32" stroke-width="3.5" fill="none"/>
<circle cx="818.9" cy="535.2" r="16.5" fill="#32cd32"/>
<path d="M852.0 524.5V532.0M826.0 524.5h52M826.0 532.0h52" stroke="#32cd32" stroke-width="3.5" fill="none"/>
<circle cx="852.0" cy="528.2" r="16.5" fill="#32cd32"/>
<path d="M918.1 482.0V489.5M892.1 482.0h52M892.1 489.5h52" stroke="#32cd32" stroke-width="3.5" fill="none"/>
<circle cx="918.1" cy="485.8" r="16.5" fill="#32cd32"/>
<path d="M951.1 498.0V510.0M925.1 498.0h52M925.1 510.0h52" stroke="#32cd32" stroke-width="3.5" fill="none"/>
<circle cx="951.1" cy="504.0" r="16.5" fill="#32cd32"/>
<path d="M984.2 498.0V511.0M958.2 498.0h52M958.2 511.0h52" stroke="#32cd32" stroke-width="3.5" fill="none"/>
<circle cx="984.2" cy="504.5" r="16.5" fill="#32cd32"/>
<path d="M1017.3 516.5V523.2M991.3 516.5h52M991.3 523.2h52" stroke="#32cd32" stroke-width="3.5" fill="none"/>
<circle cx="1017.3" cy="519.5" r="16.5" fill="#32cd32"/>
<path d="M1050.3 532.0V545.0M1024.3 532.0h52M1024.3 545.0h52" stroke="#32cd32" stroke-width="3.5" fill="none"/>
<circle cx="1050.3" cy="538.2" r="16.5" fill="#32cd32"/>
<path d="M1083.4 511.0V534.5M1057.4 511.0h52M1057.4 534.5h52" stroke="#32cd32" stroke-width="3.5" fill="none"/>
<circle cx="1083.4" cy="522.8" r="16.5" fill="#32cd32"/>
<path d="M1116.4 541.5V550.0M1090.4 541.5h52M1090.4 550.0h52" stroke="#32cd32" stroke-width="3.5" fill="none"/>
<circle cx="1116.4" cy="545.8" r="16.5" fill="#32cd32"/>
<path d="M1149.5 550.8V573.8M1123.5 550.8h52M1123.5 573.8h52" stroke="#32cd32" stroke-width="3.5" fill="none"/>
<circle cx="1149.5" cy="562.5" r="16.5" fill="#32cd32"/>
<path d="M1182.6 609.5V630.2M1156.6 609.5h52M1156.6 630.2h52" stroke="#32cd32" stroke-width="3.5" fill="none"/>
<circle cx="1182.6" cy="620.0" r="16.5" fill="#32cd32"/>
<path d="M1215.6 572.0V593.8M1189.6 572.0h52M1189.6 593.8h52" stroke="#32cd32" stroke-width="3.5" fill="none"/>
<circle cx="1215.6" cy="582.8" r="16.5" fill="#32cd32"/>
<path d="M1248.7 523.2V530.8M1222.7 523.2h52M1222.7 530.8h52" stroke="#32cd32" stroke-width="3.5" fill="none"/>
<circle cx="1248.7" cy="527.0" r="16.5" fill="#32cd32"/>
<path d="M1281.7 423.0V430.8M1255.7 423.0h52M1255.7 430.8h52" stroke="#32cd32" stroke-width="3.5" fill="none"/>
<circle cx="1281.7" cy="427.0" r="16.5" fill="#32cd32"/>
<path d="M1314.8 424.5V452.0M1288.8 424.5h52M1288.8 452.0h52" stroke="#32cd32" stroke-width="3.5" fill="none"/>
<circle cx="1314.8" cy="438.2" r="16.5" fill="#32cd32"/>
<path d="M1347.9 468.2V475.8M1321.9 468.2h52M1321.9 475.8h52" stroke="#32cd32" stroke-width="3.5" fill="none"/>
<circle cx="1347.9" cy="472.0" r="16.5" fill="#32cd32"/>
<path d="M1380.9 470.5V478.5M1354.9 470.5h52M1354.9 478.5h52" stroke="#32cd32" stroke-width="3.5" fill="none"/>
<circle cx="1380.9" cy="474.5" r="16.5" fill="#32cd32"/>
<path d="M1414.0 473.2V481.2M1388.0 473.2h52M1388.0 481.2h52" stroke="#32cd32" stroke-width="3.5" fill="none"/>
<circle cx="1414.0" cy="477.0" r="16.5" fill="#32cd32"/>
<path d="M1447.0 533.8V542.0M1421.0 533.8h52M1421.0 542.0h52" stroke="#32cd32" stroke-width="3.5" fill="none"/>
<circle cx="1447.0" cy="537.5" r="16.5" fill="#32cd32"/>
<path d="M1480.1 487.5V495.8M1454.1 487.5h52M1454.1 495.8h52" stroke="#32cd32" stroke-width="3.5" fill="none"/>
<circle cx="1480.1" cy="491.5" r="16.5" fill="#32cd32"/>
<path d="M1513.2 488.2V495.8M1487.2 488.2h52M1487.2 495.8h52" stroke="#32cd32" stroke-width="3.5" fill="none"/>
<circle cx="1513.2" cy="492.0" r="16.5" fill="#32cd32"/>
<path d="M1546.2 532.0V539.5M1520.2 532.0h52M1520.2 539.5h52" stroke="#32cd32" stroke-width="3.5" fill="none"/>
<circle cx="1546.2" cy="535.8" r="16.5" fill="#32cd32"/>
<path d="M1711.5 585.0V593.2M1685.5 585.0h52M1685.5 593.2h52" stroke="#32cd32" stroke-width="3.5" fill="none"/>
<circle cx="1711.5" cy="589.0" r="16.5" fill="#32cd32"/>
<path d="M1744.6 617.0V625.0M1718.6 617.0h52M1718.6 625.0h52" stroke="#32cd32" stroke-width="3.5" fill="none"/>
<circle cx="1744.6" cy="621.2" r="16.5" fill="#32cd32"/>
<path d="M1777.6 530.0V538.2M1751.6 530.0h52M1751.6 538.2h52" stroke="#32cd32" stroke-width="3.5" fill="none"/>
<circle cx="1777.6" cy="534.5" r="16.5" fill="#32cd32"/>
<path d="M1810.7 491.5V500.0M1784.7 491.5h52M1784.7 500.0h52" stroke="#32cd32" stroke-width="3.5" fill="none"/>
<circle cx="1810.7" cy="496.2" r="16.5" fill="#32cd32"/>
<path d="M2174.4 679.4V876.0M2148.4 679.4h52M2148.4 876.0h52" stroke="#32cd32" stroke-width="3.5" fill="none"/>
<circle cx="2174.4" cy="776.9" r="13.8" fill="#fff" stroke="#32cd32" stroke-width="6"/>
<path d="M3000.9 457.0V680.8M2974.9 457.0h52M2974.9 680.8h52" stroke="#32cd32" stroke-width="3.5" fill="none"/>
<circle cx="3000.9" cy="569.5" r="13.8" fill="#fff" stroke="#32cd32" stroke-width="6"/>
<path d="M3033.9 388.0V582.0M3007.9 388.0h52M3007.9 582.0h52" stroke="#32cd32" stroke-width="3.5" fill="none"/>
<circle cx="3033.9" cy="484.5" r="13.8" fill="#fff" stroke="#32cd32" stroke-width="6"/>
<path d="M3100.0 378.0V817.0M3074.0 378.0h52M3074.0 817.0h52" stroke="#32cd32" stroke-width="3.5" fill="none"/>
<circle cx="3100.0" cy="597.8" r="13.8" fill="#fff" stroke="#32cd32" stroke-width="6"/>
<path d="M3166.2 505.8V942.8M3140.2 505.8h52M3140.2 942.8h52" stroke="#32cd32" stroke-width="3.5" fill="none"/>
<circle cx="3166.2" cy="724.0" r="13.8" fill="#fff" stroke="#32cd32" stroke-width="6"/>
<path d="M3364.5 313.8V751.8M3338.5 313.8h52M3338.5 751.8h52" stroke="#32cd32" stroke-width="3.5" fill="none"/>
<circle cx="3364.5" cy="533.2" r="13.8" fill="#fff" stroke="#32cd32" stroke-width="6"/>
<path d="M3397.6 553.8V772.9M3371.6 553.8h52M3371.6 772.9h52" stroke="#32cd32" stroke-width="3.5" fill="none"/>
<circle cx="3397.6" cy="663.2" r="13.8" fill="#fff" stroke="#32cd32" stroke-width="6"/>
<path d="M3496.8 635.8V864.7M3470.8 635.8h52M3470.8 864.7h52" stroke="#32cd32" stroke-width="3.5" fill="none"/>
<circle cx="3496.8" cy="750.2" r="13.8" fill="#fff" stroke="#32cd32" stroke-width="6"/>
<path d="M323.0 251.8V275.8M297.0 251.8h52M297.0 275.8h52" stroke="#0000ff" stroke-width="3.5" fill="none"/>
<circle cx="323.0" cy="263.8" r="16.5" fill="#0000ff"/>
<path d="M356.1 245.0V281.8M330.1 245.0h52M330.1 281.8h52" stroke="#0000ff" stroke-width="3.5" fill="none"/>
<circle cx="356.1" cy="262.5" r="16.5" fill="#0000ff"/>
<path d="M389.1 293.8V327.8M363.1 293.8h52M363.1 327.8h52" stroke="#0000ff" stroke-width="3.5" fill="none"/>
<circle cx="389.1" cy="311.2" r="16.5" fill="#0000ff"/>
<path d="M422.2 264.0V287.8M396.2 264.0h52M396.2 287.8h52" stroke="#0000ff" stroke-width="3.5" fill="none"/>
<circle cx="422.2" cy="275.5" r="16.5" fill="#0000ff"/>
<path d="M686.7 245.8V318.0M660.7 245.8h52M660.7 318.0h52" stroke="#0000ff" stroke-width="3.5" fill="none"/>
<circle cx="686.7" cy="281.2" r="16.5" fill="#0000ff"/>
<path d="M719.7 339.0V370.8M693.7 339.0h52M693.7 370.8h52" stroke="#0000ff" stroke-width="3.5" fill="none"/>
<circle cx="719.7" cy="354.5" r="16.5" fill="#0000ff"/>
<path d="M752.8 398.0V408.0M726.8 398.0h52M726.8 408.0h52" stroke="#0000ff" stroke-width="3.5" fill="none"/>
<circle cx="752.8" cy="403.0" r="16.5" fill="#0000ff"/>
<path d="M885.0 493.2V517.8M859.0 493.2h52M859.0 517.8h52" stroke="#0000ff" stroke-width="3.5" fill="none"/>
<circle cx="885.0" cy="505.8" r="16.5" fill="#0000ff"/>
<path d="M1579.3 519.5V528.2M1553.3 519.5h52M1553.3 528.2h52" stroke="#0000ff" stroke-width="3.5" fill="none"/>
<circle cx="1579.3" cy="524.0" r="16.5" fill="#0000ff"/>
<path d="M1612.3 473.2V489.5M1586.3 473.2h52M1586.3 489.5h52" stroke="#0000ff" stroke-width="3.5" fill="none"/>
<circle cx="1612.3" cy="481.2" r="16.5" fill="#0000ff"/>
<path d="M1645.4 328.0V360.0M1619.4 328.0h52M1619.4 360.0h52" stroke="#0000ff" stroke-width="3.5" fill="none"/>
<circle cx="1645.4" cy="343.8" r="16.5" fill="#0000ff"/>
<path d="M1843.8 378.0V388.0M1817.8 378.0h52M1817.8 388.0h52" stroke="#0000ff" stroke-width="3.5" fill="none"/>
<circle cx="1843.8" cy="383.0" r="16.5" fill="#0000ff"/>
<path d="M1876.8 355.0V365.0M1850.8 355.0h52M1850.8 365.0h52" stroke="#0000ff" stroke-width="3.5" fill="none"/>
<circle cx="1876.8" cy="360.0" r="16.5" fill="#0000ff"/>
<path d="M1909.9 231.2V244.5M1883.9 231.2h52M1883.9 244.5h52" stroke="#0000ff" stroke-width="3.5" fill="none"/>
<circle cx="1909.9" cy="237.0" r="16.5" fill="#0000ff"/>
<path d="M1942.9 225.5V238.8M1916.9 225.5h52M1916.9 238.8h52" stroke="#0000ff" stroke-width="3.5" fill="none"/>
<circle cx="1942.9" cy="232.0" r="16.5" fill="#0000ff"/>
<path d="M1976.0 301.8V325.0M1950.0 301.8h52M1950.0 325.0h52" stroke="#0000ff" stroke-width="3.5" fill="none"/>
<circle cx="1976.0" cy="313.8" r="16.5" fill="#0000ff"/>
<path d="M2009.1 176.8V231.8M1983.1 176.8h52M1983.1 231.8h52" stroke="#0000ff" stroke-width="3.5" fill="none"/>
<circle cx="2009.1" cy="203.8" r="16.5" fill="#0000ff"/>
<path d="M2042.1 273.0V285.0M2016.1 273.0h52M2016.1 285.0h52" stroke="#0000ff" stroke-width="3.5" fill="none"/>
<circle cx="2042.1" cy="278.8" r="16.5" fill="#0000ff"/>
<path d="M2108.2 351.8V413.0M2082.2 351.8h52M2082.2 413.0h52" stroke="#0000ff" stroke-width="3.5" fill="none"/>
<circle cx="2108.2" cy="382.5" r="16.5" fill="#0000ff"/>
<path d="M2141.3 137.0V208.8M2115.3 137.0h52M2115.3 208.8h52" stroke="#0000ff" stroke-width="3.5" fill="none"/>
<circle cx="2141.3" cy="172.5" r="16.5" fill="#0000ff"/>
<path d="M2207.4 170.0V238.8M2181.4 170.0h52M2181.4 238.8h52" stroke="#0000ff" stroke-width="3.5" fill="none"/>
<circle cx="2207.4" cy="203.8" r="16.5" fill="#0000ff"/>
<path d="M2240.5 296.8V363.8M2214.5 296.8h52M2214.5 363.8h52" stroke="#0000ff" stroke-width="3.5" fill="none"/>
<circle cx="2240.5" cy="330.0" r="16.5" fill="#0000ff"/>
<path d="M2273.5 291.2V301.2M2247.5 291.2h52M2247.5 301.2h52" stroke="#0000ff" stroke-width="3.5" fill="none"/>
<circle cx="2273.5" cy="295.8" r="16.5" fill="#0000ff"/>
<path d="M2306.6 431.5V440.0M2280.6 431.5h52M2280.6 440.0h52" stroke="#0000ff" stroke-width="3.5" fill="none"/>
<circle cx="2306.6" cy="435.8" r="16.5" fill="#0000ff"/>
<path d="M2339.7 208.0V221.8M2313.7 208.0h52M2313.7 221.8h52" stroke="#0000ff" stroke-width="3.5" fill="none"/>
<circle cx="2339.7" cy="215.0" r="16.5" fill="#0000ff"/>
<path d="M2372.7 151.2V165.8M2346.7 151.2h52M2346.7 165.8h52" stroke="#0000ff" stroke-width="3.5" fill="none"/>
<circle cx="2372.7" cy="158.0" r="16.5" fill="#0000ff"/>
<path d="M2405.8 201.8V215.0M2379.8 201.8h52M2379.8 215.0h52" stroke="#0000ff" stroke-width="3.5" fill="none"/>
<circle cx="2405.8" cy="208.2" r="16.5" fill="#0000ff"/>
<path d="M2438.8 180.8V195.0M2412.8 180.8h52M2412.8 195.0h52" stroke="#0000ff" stroke-width="3.5" fill="none"/>
<circle cx="2438.8" cy="187.5" r="16.5" fill="#0000ff"/>
<path d="M2471.9 153.2V167.8M2445.9 153.2h52M2445.9 167.8h52" stroke="#0000ff" stroke-width="3.5" fill="none"/>
<circle cx="2471.9" cy="160.8" r="16.5" fill="#0000ff"/>
<path d="M2505.0 140.0V153.2M2479.0 140.0h52M2479.0 153.2h52" stroke="#0000ff" stroke-width="3.5" fill="none"/>
<circle cx="2505.0" cy="147.5" r="16.5" fill="#0000ff"/>
<path d="M2538.0 132.0V147.5M2512.0 132.0h52M2512.0 147.5h52" stroke="#0000ff" stroke-width="3.5" fill="none"/>
<circle cx="2538.0" cy="140.0" r="16.5" fill="#0000ff"/>
<path d="M2571.1 203.0V216.8M2545.1 203.0h52M2545.1 216.8h52" stroke="#0000ff" stroke-width="3.5" fill="none"/>
<circle cx="2571.1" cy="209.5" r="16.5" fill="#0000ff"/>
<path d="M2604.1 289.2V300.8M2578.1 289.2h52M2578.1 300.8h52" stroke="#0000ff" stroke-width="3.5" fill="none"/>
<circle cx="2604.1" cy="295.0" r="16.5" fill="#0000ff"/>
<path d="M2637.2 210.8V224.5M2611.2 210.8h52M2611.2 224.5h52" stroke="#0000ff" stroke-width="3.5" fill="none"/>
<circle cx="2637.2" cy="217.5" r="16.5" fill="#0000ff"/>
<path d="M2670.3 230.8V245.0M2644.3 230.8h52M2644.3 245.0h52" stroke="#0000ff" stroke-width="3.5" fill="none"/>
<circle cx="2670.3" cy="238.8" r="16.5" fill="#0000ff"/>
<path d="M2703.3 210.5V224.5M2677.3 210.5h52M2677.3 224.5h52" stroke="#0000ff" stroke-width="3.5" fill="none"/>
<circle cx="2703.3" cy="218.0" r="16.5" fill="#0000ff"/>
<path d="M2736.4 255.0V267.0M2710.4 255.0h52M2710.4 267.0h52" stroke="#0000ff" stroke-width="3.5" fill="none"/>
<circle cx="2736.4" cy="260.8" r="16.5" fill="#0000ff"/>
<path d="M2769.4 242.0V253.0M2743.4 242.0h52M2743.4 253.0h52" stroke="#0000ff" stroke-width="3.5" fill="none"/>
<circle cx="2769.4" cy="247.5" r="16.5" fill="#0000ff"/>
<path d="M2802.5 261.2V272.5M2776.5 261.2h52M2776.5 272.5h52" stroke="#0000ff" stroke-width="3.5" fill="none"/>
<circle cx="2802.5" cy="267.0" r="16.5" fill="#0000ff"/>
<path d="M2835.6 244.2V256.2M2809.6 244.2h52M2809.6 256.2h52" stroke="#0000ff" stroke-width="3.5" fill="none"/>
<circle cx="2835.6" cy="250.0" r="16.5" fill="#0000ff"/>
<path d="M2868.6 206.8V220.8M2842.6 206.8h52M2842.6 220.8h52" stroke="#0000ff" stroke-width="3.5" fill="none"/>
<circle cx="2868.6" cy="213.8" r="16.5" fill="#0000ff"/>
<path d="M2901.7 248.2V262.0M2875.7 248.2h52M2875.7 262.0h52" stroke="#0000ff" stroke-width="3.5" fill="none"/>
<circle cx="2901.7" cy="255.5" r="16.5" fill="#0000ff"/>
<path d="M2934.7 188.8V202.5M2908.7 188.8h52M2908.7 202.5h52" stroke="#0000ff" stroke-width="3.5" fill="none"/>
<circle cx="2934.7" cy="195.8" r="16.5" fill="#0000ff"/>
<path d="M2967.8 343.8V355.5M2941.8 343.8h52M2941.8 355.5h52" stroke="#0000ff" stroke-width="3.5" fill="none"/>
<circle cx="2967.8" cy="350.0" r="16.5" fill="#0000ff"/>
<path d="M3067.0 283.0V294.5M3041.0 283.0h52M3041.0 294.5h52" stroke="#0000ff" stroke-width="3.5" fill="none"/>
<circle cx="3067.0" cy="288.8" r="16.5" fill="#0000ff"/>
<path d="M3133.1 263.0V286.8M3107.1 263.0h52M3107.1 286.8h52" stroke="#0000ff" stroke-width="3.5" fill="none"/>
<circle cx="3133.1" cy="275.0" r="16.5" fill="#0000ff"/>
<path d="M3199.2 237.8V250.8M3173.2 237.8h52M3173.2 250.8h52" stroke="#0000ff" stroke-width="3.5" fill="none"/>
<circle cx="3199.2" cy="244.2" r="16.5" fill="#0000ff"/>
<path d="M3232.3 276.2V287.5M3206.3 276.2h52M3206.3 287.5h52" stroke="#0000ff" stroke-width="3.5" fill="none"/>
<circle cx="3232.3" cy="281.8" r="16.5" fill="#0000ff"/>
<path d="M3265.3 272.5V286.2M3239.3 272.5h52M3239.3 286.2h52" stroke="#0000ff" stroke-width="3.5" fill="none"/>
<circle cx="3265.3" cy="279.5" r="16.5" fill="#0000ff"/>
<path d="M3298.4 267.5V280.0M3272.4 267.5h52M3272.4 280.0h52" stroke="#0000ff" stroke-width="3.5" fill="none"/>
<circle cx="3298.4" cy="273.8" r="16.5" fill="#0000ff"/>
<path d="M3331.5 288.8V300.8M3305.5 288.8h52M3305.5 300.8h52" stroke="#0000ff" stroke-width="3.5" fill="none"/>
<circle cx="3331.5" cy="295.0" r="16.5" fill="#0000ff"/>
<path d="M3430.6 226.8V253.0M3404.6 226.8h52M3404.6 253.0h52" stroke="#0000ff" stroke-width="3.5" fill="none"/>
<circle cx="3430.6" cy="240.0" r="16.5" fill="#0000ff"/>
<path d="M3463.7 234.2V260.0M3437.7 234.2h52M3437.7 260.0h52" stroke="#0000ff" stroke-width="3.5" fill="none"/>
<circle cx="3463.7" cy="246.8" r="16.5" fill="#0000ff"/>
<path d="M3529.8 236.8V261.2M3503.8 236.8h52M3503.8 261.2h52" stroke="#0000ff" stroke-width="3.5" fill="none"/>
<circle cx="3529.8" cy="249.2" r="16.5" fill="#0000ff"/>
<path d="M3562.9 254.0V266.0M3536.9 254.0h52M3536.9 266.0h52" stroke="#0000ff" stroke-width="3.5" fill="none"/>
<circle cx="3562.9" cy="260.0" r="16.5" fill="#0000ff"/>
<path d="M3595.9 248.0V260.0M3569.9 248.0h52M3569.9 260.0h52" stroke="#0000ff" stroke-width="3.5" fill="none"/>
<circle cx="3595.9" cy="253.8" r="16.5" fill="#0000ff"/>
<path d="M3629.0 230.0V255.0M3603.0 230.0h52M3603.0 255.0h52" stroke="#0000ff" stroke-width="3.5" fill="none"/>
<circle cx="3629.0" cy="242.5" r="16.5" fill="#0000ff"/>
<path d="M2174.4 265.0V290.5M2148.4 265.0h52M2148.4 290.5h52" stroke="#0000ff" stroke-width="3.5" fill="none"/>
<circle cx="2174.4" cy="277.5" r="13.8" fill="#fff" stroke="#0000ff" stroke-width="6"/>
<path d="M3000.9 333.0V366.2M2974.9 333.0h52M2974.9 366.2h52" stroke="#0000ff" stroke-width="3.5" fill="none"/>
<circle cx="3000.9" cy="350.0" r="13.8" fill="#fff" stroke="#0000ff" stroke-width="6"/>
<path d="M3033.9 341.8V373.8M3007.9 341.8h52M3007.9 373.8h52" stroke="#0000ff" stroke-width="3.5" fill="none"/>
<circle cx="3033.9" cy="357.5" r="13.8" fill="#fff" stroke="#0000ff" stroke-width="6"/>
<path d="M3100.0 245.0V271.2M3074.0 245.0h52M3074.0 271.2h52" stroke="#0000ff" stroke-width="3.5" fill="none"/>
<circle cx="3100.0" cy="258.8" r="13.8" fill="#fff" stroke="#0000ff" stroke-width="6"/>
<path d="M3166.2 275.8V300.0M3140.2 275.8h52M3140.2 300.0h52" stroke="#0000ff" stroke-width="3.5" fill="none"/>
<circle cx="3166.2" cy="287.5" r="13.8" fill="#fff" stroke="#0000ff" stroke-width="6"/>
<path d="M3364.5 248.8V273.8M3338.5 248.8h52M3338.5 273.8h52" stroke="#0000ff" stroke-width="3.5" fill="none"/>
<circle cx="3364.5" cy="262.0" r="13.8" fill="#fff" stroke="#0000ff" stroke-width="6"/>
<path d="M3397.6 206.8V246.2M3371.6 206.8h52M3371.6 246.2h52" stroke="#0000ff" stroke-width="3.5" fill="none"/>
<circle cx="3397.6" cy="226.8" r="13.8" fill="#fff" stroke="#0000ff" stroke-width="6"/>
<path d="M3496.8 245.0V283.0M3470.8 245.0h52M3470.8 283.0h52" stroke="#0000ff" stroke-width="3.5" fill="none"/>
<circle cx="3496.8" cy="263.8" r="13.8" fill="#fff" stroke="#0000ff" stroke-width="6"/>
<path d="M1678.5 100V223.75M1652.5 223.75h52" stroke="#0000ff" stroke-width="3.5" fill="none"/>
<polyline points="266.5,256.2 904.0,260.8 945.0,262.0 1079.0,262.0 1276.5,255.8 1436.5,252.5 1548.0,252.5 2119.0,252.5" fill="none" stroke="#000" stroke-width="4"/>
<polyline points="2223.0,250.8 2836.0,250.0 3480.0,252.5 3637.0,253.5" fill="none" stroke="#000" stroke-width="4"/>
<polyline points="266.5,417.5 904.0,418.0 1548.0,421.0 1840.0,422.4 2115.0,418.2" fill="none" stroke="#000" stroke-width="4"/>
<polyline points="2224.0,416.8 2700.0,409.0 2836.0,410.8 3036.0,411.0 3161.0,412.5 3336.0,417.0 3480.0,421.2 3637.0,429.0" fill="none" stroke="#000" stroke-width="4"/>
<polyline points="266.5,648.2 585.0,650.8 904.0,655.2 1548.0,658.2 1660.0,652.0 1868.0,656.5 1998.0,659.0 2119.0,655.8" fill="none" stroke="#000" stroke-width="4"/>
<polyline points="2223.5,652.7 2467.0,657.0 2629.5,664.5 2836.0,669.5 3036.0,671.5 3211.0,662.0 3331.0,660.8 3637.0,657.0" fill="none" stroke="#000" stroke-width="4"/>
<polyline points="266.5,694.0 904.0,703.2 1035.0,706.0 1548.0,709.5 2119.0,711.0" fill="none" stroke="#000" stroke-width="4"/>
<polyline points="2223.5,710.8 2442.0,714.0 2654.5,714.0 2836.0,722.0 3031.0,729.0 3161.0,722.0 3268.0,722.0 3481.0,723.0 3637.0,726.0" fill="none" stroke="#000" stroke-width="4"/>
<polyline points="266.5,789.0 455.0,789.0 660.0,808.5 875.0,808.5 1010.0,805.0 1085.0,805.0 1250.0,815.0 1548.0,817.5 1633.7,818.6 2067.7,817.0 2174.5,822.0" fill="none" stroke="#000" stroke-width="4"/>
<polyline points="2280.2,827.6 2448.8,853.7 2647.5,849.7 2831.0,876.4 2844.4,886.4 2807.7,893.7 2786.0,902.7 2834.4,911.0 3000.0,915.4 3257.0,918.8 3637.0,926.4" fill="none" stroke="#000" stroke-width="4"/>
</g>
<text x="2170.5" y="273.6" font-size="58" text-anchor="middle" transform="rotate(-1 2170.5 253.60000000000002)">230</text>
<text x="2170.5" y="439.8" font-size="58" text-anchor="middle" transform="rotate(-1 2170.5 419.8)">250</text>
<text x="2171" y="675.5" font-size="58" text-anchor="middle" transform="rotate(-1 2171 655.5)">273</text>
<text x="2171" y="732.5" font-size="58" text-anchor="middle" transform="rotate(0 2171 712.5)">279</text>
<text x="2227.6" y="846.5" font-size="58" text-anchor="middle" transform="rotate(4 2227.6 826.5)">290</text>
<rect x="263.5" y="109" width="6" height="851" fill="#000"/>
<rect x="263.5" y="954" width="3376.5" height="6" fill="#000"/>
<rect x="263.5" y="109.0" width="83.5" height="6" fill="#000"/>
<text x="232" y="136.8" font-size="69.5" text-anchor="end" textLength="150" lengthAdjust="spacingAndGlyphs">11.9</text>
<rect x="263.5" y="214.6" width="83.5" height="6" fill="#000"/>
<text x="232" y="242.4" font-size="69.5" text-anchor="end" textLength="150" lengthAdjust="spacingAndGlyphs">10.4</text>
<rect x="263.5" y="320.2" width="83.5" height="6" fill="#000"/>
<text x="232" y="348.1" font-size="69.5" text-anchor="end" textLength="150" lengthAdjust="spacingAndGlyphs">9.00</text>
<rect x="263.5" y="425.9" width="83.5" height="6" fill="#000"/>
<text x="232" y="453.7" font-size="69.5" text-anchor="end" textLength="150" lengthAdjust="spacingAndGlyphs">7.52</text>
<rect x="263.5" y="531.5" width="83.5" height="6" fill="#000"/>
<text x="232" y="559.3" font-size="69.5" text-anchor="end" textLength="150" lengthAdjust="spacingAndGlyphs">6.03</text>
<rect x="263.5" y="637.1" width="83.5" height="6" fill="#000"/>
<text x="232" y="664.9" font-size="69.5" text-anchor="end" textLength="150" lengthAdjust="spacingAndGlyphs">4.55</text>
<rect x="263.5" y="742.8" width="83.5" height="6" fill="#000"/>
<text x="232" y="770.5" font-size="69.5" text-anchor="end" textLength="150" lengthAdjust="spacingAndGlyphs">3.06</text>
<rect x="263.5" y="848.4" width="83.5" height="6" fill="#000"/>
<text x="232" y="876.2" font-size="69.5" text-anchor="end" textLength="150" lengthAdjust="spacingAndGlyphs">1.58</text>
<text x="232" y="981.8" font-size="69.5" text-anchor="end" textLength="150" lengthAdjust="spacingAndGlyphs">0.10</text>
<rect x="263.5" y="894" width="6" height="63" fill="#000"/>
<text x="266.5" y="1035.5" font-size="78" text-anchor="middle" textLength="47" lengthAdjust="spacingAndGlyphs">0</text>
<rect x="334.2" y="924" width="5" height="33" fill="#000"/>
<rect x="404.5" y="924" width="5" height="33" fill="#000"/>
<rect x="474.8" y="924" width="5" height="33" fill="#000"/>
<rect x="544.5" y="894" width="6" height="63" fill="#000"/>
<text x="547.5" y="1035.5" font-size="78" text-anchor="middle" textLength="47" lengthAdjust="spacingAndGlyphs">1</text>
<rect x="615.2" y="924" width="5" height="33" fill="#000"/>
<rect x="685.5" y="924" width="5" height="33" fill="#000"/>
<rect x="755.8" y="924" width="5" height="33" fill="#000"/>
<rect x="825.5" y="894" width="6" height="63" fill="#000"/>
<text x="828.5" y="1035.5" font-size="78" text-anchor="middle" textLength="47" lengthAdjust="spacingAndGlyphs">3</text>
<rect x="896.2" y="924" width="5" height="33" fill="#000"/>
<rect x="966.5" y="924" width="5" height="33" fill="#000"/>
<rect x="1036.8" y="924" width="5" height="33" fill="#000"/>
<rect x="1106.5" y="894" width="6" height="63" fill="#000"/>
<text x="1109.5" y="1035.5" font-size="78" text-anchor="middle" textLength="47" lengthAdjust="spacingAndGlyphs">4</text>
<rect x="1177.2" y="924" width="5" height="33" fill="#000"/>
<rect x="1247.5" y="924" width="5" height="33" fill="#000"/>
<rect x="1317.8" y="924" width="5" height="33" fill="#000"/>
<rect x="1387.5" y="894" width="6" height="63" fill="#000"/>
<text x="1390.5" y="1035.5" font-size="78" text-anchor="middle" textLength="47" lengthAdjust="spacingAndGlyphs">6</text>
<rect x="1458.2" y="924" width="5" height="33" fill="#000"/>
<rect x="1528.5" y="924" width="5" height="33" fill="#000"/>
<rect x="1598.8" y="924" width="5" height="33" fill="#000"/>
<rect x="1668.5" y="894" width="6" height="63" fill="#000"/>
<text x="1671.5" y="1035.5" font-size="78" text-anchor="middle" textLength="47" lengthAdjust="spacingAndGlyphs">7</text>
<rect x="1739.2" y="924" width="5" height="33" fill="#000"/>
<rect x="1809.5" y="924" width="5" height="33" fill="#000"/>
<rect x="1879.8" y="924" width="5" height="33" fill="#000"/>
<rect x="1949.5" y="894" width="6" height="63" fill="#000"/>
<text x="1952.5" y="1035.5" font-size="78" text-anchor="middle" textLength="47" lengthAdjust="spacingAndGlyphs">8</text>
<rect x="2020.2" y="924" width="5" height="33" fill="#000"/>
<rect x="2090.5" y="924" width="5" height="33" fill="#000"/>
<rect x="2160.8" y="924" width="5" height="33" fill="#000"/>
<rect x="2230.5" y="894" width="6" height="63" fill="#000"/>
<text x="2233.5" y="1035.5" font-size="78" text-anchor="middle" textLength="94" lengthAdjust="spacingAndGlyphs">10</text>
<rect x="2301.2" y="924" width="5" height="33" fill="#000"/>
<rect x="2371.5" y="924" width="5" height="33" fill="#000"/>
<rect x="2441.8" y="924" width="5" height="33" fill="#000"/>
<rect x="2511.5" y="894" width="6" height="63" fill="#000"/>
<text x="2514.5" y="1035.5" font-size="78" text-anchor="middle" textLength="94" lengthAdjust="spacingAndGlyphs">11</text>
<rect x="2582.2" y="924" width="5" height="33" fill="#000"/>
<rect x="2652.5" y="924" width="5" height="33" fill="#000"/>
<rect x="2722.8" y="924" width="5" height="33" fill="#000"/>
<rect x="2792.5" y="894" width="6" height="63" fill="#000"/>
<text x="2795.5" y="1035.5" font-size="78" text-anchor="middle" textLength="94" lengthAdjust="spacingAndGlyphs">13</text>
<rect x="2863.2" y="924" width="5" height="33" fill="#000"/>
<rect x="2933.5" y="924" width="5" height="33" fill="#000"/>
<rect x="3003.8" y="924" width="5" height="33" fill="#000"/>
<rect x="3073.5" y="894" width="6" height="63" fill="#000"/>
<text x="3076.5" y="1035.5" font-size="78" text-anchor="middle" textLength="94" lengthAdjust="spacingAndGlyphs">14</text>
<rect x="3144.2" y="924" width="5" height="33" fill="#000"/>
<rect x="3214.5" y="924" width="5" height="33" fill="#000"/>
<rect x="3284.8" y="924" width="5" height="33" fill="#000"/>
<rect x="3354.5" y="894" width="6" height="63" fill="#000"/>
<text x="3357.5" y="1035.5" font-size="78" text-anchor="middle" textLength="94" lengthAdjust="spacingAndGlyphs">16</text>
<rect x="3425.2" y="924" width="5" height="33" fill="#000"/>
<rect x="3495.5" y="924" width="5" height="33" fill="#000"/>
<rect x="3565.8" y="924" width="5" height="33" fill="#000"/>
<rect x="3635.5" y="894" width="6" height="63" fill="#000"/>
<text x="3638.5" y="1035.5" font-size="78" text-anchor="middle" textLength="94" lengthAdjust="spacingAndGlyphs">17</text>
<text x="1949" y="1116" font-size="78" text-anchor="middle" textLength="421" lengthAdjust="spacingAndGlyphs">Time (UTC)</text>
<text transform="translate(37,533) rotate(-90)" font-size="68" text-anchor="middle" textLength="593" lengthAdjust="spacingAndGlyphs">Height AMSL (km)</text>
<text x="1952.5" y="78" font-size="95.5" text-anchor="middle" textLength="928" lengthAdjust="spacingAndGlyphs">Cabauw: 2025/09/20</text>
<rect x="266.5" y="1144" width="3372" height="53.5" fill="url(#cb)"/>
<rect x="263.5" y="1197" width="3378" height="6" fill="#000"/>
<rect x="263.5" y="1183" width="6" height="15" fill="#000"/>
<rect x="375.9" y="1190" width="6" height="8" fill="#000"/>
<rect x="488.3" y="1190" width="6" height="8" fill="#000"/>
<rect x="600.7" y="1190" width="6" height="8" fill="#000"/>
<rect x="713.1" y="1190" width="6" height="8" fill="#000"/>
<rect x="825.5" y="1190" width="6" height="8" fill="#000"/>
<rect x="937.9" y="1190" width="6" height="8" fill="#000"/>
<rect x="1050.3" y="1190" width="6" height="8" fill="#000"/>
<rect x="1162.7" y="1190" width="6" height="8" fill="#000"/>
<rect x="1275.1" y="1190" width="6" height="8" fill="#000"/>
<rect x="1387.5" y="1183" width="6" height="15" fill="#000"/>
<rect x="1499.9" y="1190" width="6" height="8" fill="#000"/>
<rect x="1612.3" y="1190" width="6" height="8" fill="#000"/>
<rect x="1724.7" y="1190" width="6" height="8" fill="#000"/>
<rect x="1837.1" y="1190" width="6" height="8" fill="#000"/>
<rect x="1949.5" y="1190" width="6" height="8" fill="#000"/>
<rect x="2061.9" y="1190" width="6" height="8" fill="#000"/>
<rect x="2174.3" y="1190" width="6" height="8" fill="#000"/>
<rect x="2286.7" y="1190" width="6" height="8" fill="#000"/>
<rect x="2399.1" y="1190" width="6" height="8" fill="#000"/>
<rect x="2511.5" y="1183" width="6" height="15" fill="#000"/>
<rect x="2623.9" y="1190" width="6" height="8" fill="#000"/>
<rect x="2736.3" y="1190" width="6" height="8" fill="#000"/>
<rect x="2848.7" y="1190" width="6" height="8" fill="#000"/>
<rect x="2961.1" y="1190" width="6" height="8" fill="#000"/>
<rect x="3073.5" y="1190" width="6" height="8" fill="#000"/>
<rect x="3185.9" y="1190" width="6" height="8" fill="#000"/>
<rect x="3298.3" y="1190" width="6" height="8" fill="#000"/>
<rect x="3410.7" y="1190" width="6" height="8" fill="#000"/>
<rect x="3523.1" y="1190" width="6" height="8" fill="#000"/>
<rect x="3635.5" y="1183" width="6" height="15" fill="#000"/>
<text x="258.5" y="1261.5" font-size="60" text-anchor="middle" textLength="156" lengthAdjust="spacingAndGlyphs">Clear</text>
<text x="1391.5" y="1261.5" font-size="60" text-anchor="middle" textLength="173.5" lengthAdjust="spacingAndGlyphs">Water</text>
<text x="2514.5" y="1261.5" font-size="60" text-anchor="middle" textLength="86" lengthAdjust="spacingAndGlyphs">Ice</text>
<text x="3637.5" y="1261.5" font-size="60" text-anchor="middle" textLength="163" lengthAdjust="spacingAndGlyphs">Other</text>
<rect x="249.5" y="1313" width="651.0" height="334.5" fill="#fff" stroke="#000" stroke-width="6"/>
<circle cx="287" cy="1384.5" r="17" fill="#32cd32"/>
<text x="323" y="1405" font-size="60" textLength="461" lengthAdjust="spacingAndGlyphs">FCI-OCA SL Wat</text>
<circle cx="287" cy="1471" r="14.5" fill="#fff" stroke="#32cd32" stroke-width="5"/>
<text x="323" y="1491" font-size="60" textLength="461" lengthAdjust="spacingAndGlyphs">FCI-OCA 2L Wat</text>
<path d="M269.5 1549.5l35 35M304.5 1549.5l-35 35" stroke="#32cd32" stroke-width="5" fill="none"/>
<text x="324" y="1587.5" font-size="60" textLength="514" lengthAdjust="spacingAndGlyphs">OCA High Err Wat</text>
<rect x="1066.5" y="1313" width="545.5" height="229" fill="#fff" stroke="#000" stroke-width="6"/>
<circle cx="1103" cy="1384.5" r="17" fill="#0000ff"/>
<text x="1138.5" y="1405" font-size="60" textLength="438" lengthAdjust="spacingAndGlyphs">FCI-OCA SL Ice</text>
<circle cx="1103" cy="1471" r="14.5" fill="#fff" stroke="#0000ff" stroke-width="5"/>
<text x="1138.5" y="1491" font-size="60" textLength="438" lengthAdjust="spacingAndGlyphs">FCI-OCA 2L Ice</text>
<rect x="2328.5" y="1313" width="559.0" height="401" fill="#fff" stroke="#000" stroke-width="6"/>
<polygon points="2347.8,1393.5 2382.8,1393.5 2365.3,1364" fill="#ff0000"/>
<text x="2402.5" y="1405" font-size="60" textLength="355" lengthAdjust="spacingAndGlyphs">ACTRIS CBH</text>
<polygon points="2347.8,1460.5 2382.8,1460.5 2365.3,1490" fill="#ff0000"/>
<text x="2402.5" y="1491" font-size="60" textLength="351" lengthAdjust="spacingAndGlyphs">ACTRIS CTH</text>
<polygon points="2347.8,1567.5 2382.8,1567.5 2365.3,1537.5" fill="#ff0000"/><polygon points="2355.8,1563 2374.8,1563 2365.3,1547" fill="#fff"/>
<text x="2402.5" y="1577.5" font-size="60" textLength="448" lengthAdjust="spacingAndGlyphs">ACTRIS CBH BL</text>
<polygon points="2347.8,1633 2382.8,1633 2365.3,1663" fill="#ff0000"/><polygon points="2355.8,1637.5 2374.8,1637.5 2365.3,1653.5" fill="#fff"/>
<text x="2402.5" y="1664.5" font-size="60" textLength="443" lengthAdjust="spacingAndGlyphs">ACTRIS CTH BL</text>
</svg></body></html>
